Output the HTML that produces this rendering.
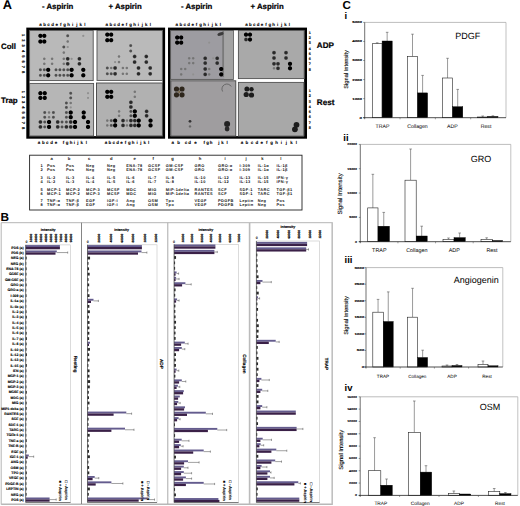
<!DOCTYPE html>
<html><head><meta charset="utf-8">
<style>
html,body{margin:0;padding:0;background:#fff;}
body{width:520px;height:506px;overflow:hidden;}
svg{display:block;font-family:"Liberation Sans", sans-serif;text-rendering:geometricPrecision;}
</style></head>
<body>
<svg width="520" height="506" viewBox="0 0 520 506">
<defs>
<filter id="blur" x="-5%" y="-5%" width="110%" height="110%"><feGaussianBlur stdDeviation="0.5"/></filter>
<radialGradient id="gB"><stop offset="0" stop-color="#000"/><stop offset="0.62" stop-color="#000"/><stop offset="1" stop-color="#000" stop-opacity="0"/></radialGradient>
<radialGradient id="gD"><stop offset="0" stop-color="#262626"/><stop offset="0.5" stop-color="#2c2c2c"/><stop offset="1" stop-color="#2c2c2c" stop-opacity="0"/></radialGradient>
<radialGradient id="gM"><stop offset="0" stop-color="#4a4a4a"/><stop offset="0.45" stop-color="#525252"/><stop offset="1" stop-color="#525252" stop-opacity="0"/></radialGradient>
<radialGradient id="gL"><stop offset="0" stop-color="#707070"/><stop offset="0.45" stop-color="#787878"/><stop offset="1" stop-color="#787878" stop-opacity="0"/></radialGradient>
<radialGradient id="gF"><stop offset="0" stop-color="#8e8e8e"/><stop offset="0.4" stop-color="#929292"/><stop offset="1" stop-color="#929292" stop-opacity="0"/></radialGradient>
</defs>
<rect x="0" y="0" width="520" height="506" fill="#fff"/>
<text x="2.7" y="8.7" font-size="12.8" font-weight="bold" text-anchor="start" fill="#000">A</text>
<text x="42" y="8.5" font-size="7.8" font-weight="bold" text-anchor="start" fill="#000" stroke="#000" stroke-width="0.22">- Aspirin</text>
<text x="108.5" y="8.5" font-size="7.8" font-weight="bold" text-anchor="start" fill="#000" stroke="#000" stroke-width="0.22">+ Aspirin</text>
<text x="181" y="8.5" font-size="7.8" font-weight="bold" text-anchor="start" fill="#000" stroke="#000" stroke-width="0.22">- Aspirin</text>
<text x="250.5" y="8.5" font-size="7.8" font-weight="bold" text-anchor="start" fill="#000" stroke="#000" stroke-width="0.22">+ Aspirin</text>
<rect x="26.30" y="27.60" width="138.80" height="111.10" fill="#000"/>
<rect x="168.00" y="27.60" width="139.00" height="111.10" fill="#000"/>
<rect x="29.50" y="30.30" width="133.00" height="105.80" fill="#fff"/>
<rect x="170.50" y="30.30" width="133.60" height="105.80" fill="#fff"/>
<g filter="url(#blur)">
<rect x="29.60" y="30.40" width="63.60" height="50.20" fill="#b9b9b9" stroke="#505050" stroke-width="0.9"/>
<circle cx="40.40" cy="35.80" r="2.6" fill="url(#gB)"/>
<circle cx="44.30" cy="35.80" r="2.6" fill="url(#gB)"/>
<circle cx="67.70" cy="35.80" r="2.0" fill="url(#gM)"/>
<circle cx="83.30" cy="35.80" r="1.6" fill="url(#gF)"/>
<circle cx="40.40" cy="41.50" r="2.6" fill="url(#gB)"/>
<circle cx="44.30" cy="41.50" r="2.6" fill="url(#gB)"/>
<circle cx="67.70" cy="41.50" r="1.8" fill="url(#gL)"/>
<circle cx="63.80" cy="47.00" r="2.0" fill="url(#gM)"/>
<circle cx="67.70" cy="47.00" r="1.6" fill="url(#gF)"/>
<circle cx="63.80" cy="52.60" r="1.8" fill="url(#gL)"/>
<circle cx="44.30" cy="58.80" r="1.8" fill="url(#gL)"/>
<circle cx="52.10" cy="58.80" r="1.8" fill="url(#gL)"/>
<circle cx="63.80" cy="58.80" r="1.8" fill="url(#gL)"/>
<circle cx="67.70" cy="58.80" r="2.4" fill="url(#gD)"/>
<circle cx="71.60" cy="58.80" r="1.6" fill="url(#gF)"/>
<circle cx="79.40" cy="58.80" r="2.4" fill="url(#gD)"/>
<circle cx="44.30" cy="63.80" r="1.8" fill="url(#gL)"/>
<circle cx="52.10" cy="63.80" r="1.8" fill="url(#gL)"/>
<circle cx="63.80" cy="63.80" r="1.8" fill="url(#gL)"/>
<circle cx="67.70" cy="63.80" r="2.4" fill="url(#gD)"/>
<circle cx="79.40" cy="63.80" r="2.4" fill="url(#gD)"/>
<circle cx="40.40" cy="69.80" r="2.0" fill="url(#gM)"/>
<circle cx="44.30" cy="69.80" r="2.0" fill="url(#gM)"/>
<circle cx="48.20" cy="69.80" r="2.6" fill="url(#gB)"/>
<circle cx="56.00" cy="69.80" r="2.0" fill="url(#gM)"/>
<circle cx="59.90" cy="69.80" r="2.0" fill="url(#gM)"/>
<circle cx="63.80" cy="69.80" r="2.0" fill="url(#gM)"/>
<circle cx="67.70" cy="69.80" r="2.0" fill="url(#gM)"/>
<circle cx="71.60" cy="69.80" r="2.6" fill="url(#gB)"/>
<circle cx="83.30" cy="69.80" r="2.6" fill="url(#gB)"/>
<circle cx="40.40" cy="75.30" r="2.0" fill="url(#gM)"/>
<circle cx="44.30" cy="75.30" r="2.0" fill="url(#gM)"/>
<circle cx="48.20" cy="75.30" r="2.6" fill="url(#gB)"/>
<circle cx="56.00" cy="75.30" r="2.0" fill="url(#gM)"/>
<circle cx="59.90" cy="75.30" r="2.0" fill="url(#gM)"/>
<circle cx="63.80" cy="75.30" r="2.0" fill="url(#gM)"/>
<circle cx="67.70" cy="75.30" r="2.0" fill="url(#gM)"/>
<circle cx="71.60" cy="75.30" r="2.6" fill="url(#gB)"/>
<circle cx="83.30" cy="75.30" r="2.6" fill="url(#gB)"/>
</g>
<g filter="url(#blur)">
<rect x="97.00" y="30.40" width="65.40" height="50.00" fill="#bababa" stroke="#505050" stroke-width="0.9"/>
<circle cx="107.30" cy="34.60" r="2.6" fill="url(#gB)"/>
<circle cx="111.20" cy="34.60" r="2.6" fill="url(#gB)"/>
<circle cx="107.30" cy="40.20" r="2.6" fill="url(#gB)"/>
<circle cx="111.20" cy="40.20" r="2.6" fill="url(#gB)"/>
<circle cx="130.70" cy="45.60" r="2.0" fill="url(#gM)"/>
<circle cx="130.70" cy="51.00" r="2.0" fill="url(#gM)"/>
<circle cx="119.00" cy="56.50" r="1.8" fill="url(#gL)"/>
<circle cx="134.60" cy="56.50" r="2.4" fill="url(#gD)"/>
<circle cx="146.30" cy="56.50" r="2.4" fill="url(#gD)"/>
<circle cx="115.10" cy="62.10" r="1.6" fill="url(#gF)"/>
<circle cx="119.00" cy="62.10" r="1.8" fill="url(#gL)"/>
<circle cx="134.60" cy="62.10" r="2.4" fill="url(#gD)"/>
<circle cx="146.30" cy="62.10" r="2.4" fill="url(#gD)"/>
<circle cx="107.30" cy="68.00" r="2.0" fill="url(#gM)"/>
<circle cx="111.20" cy="68.00" r="1.8" fill="url(#gL)"/>
<circle cx="115.10" cy="68.00" r="2.4" fill="url(#gD)"/>
<circle cx="122.90" cy="68.00" r="1.8" fill="url(#gL)"/>
<circle cx="126.80" cy="68.00" r="1.8" fill="url(#gL)"/>
<circle cx="138.50" cy="68.00" r="2.4" fill="url(#gD)"/>
<circle cx="150.20" cy="68.00" r="2.4" fill="url(#gD)"/>
<circle cx="107.30" cy="73.80" r="2.0" fill="url(#gM)"/>
<circle cx="111.20" cy="73.80" r="2.0" fill="url(#gM)"/>
<circle cx="115.10" cy="73.80" r="2.4" fill="url(#gD)"/>
<circle cx="122.90" cy="73.80" r="1.8" fill="url(#gL)"/>
<circle cx="126.80" cy="73.80" r="1.8" fill="url(#gL)"/>
<circle cx="138.50" cy="73.80" r="2.4" fill="url(#gD)"/>
<circle cx="150.20" cy="73.80" r="2.4" fill="url(#gD)"/>
</g>
<g filter="url(#blur)">
<rect x="29.60" y="83.40" width="64.00" height="52.60" fill="#b6b6b6" stroke="#505050" stroke-width="0.9"/>
<circle cx="40.40" cy="93.20" r="2.6" fill="url(#gB)"/>
<circle cx="44.73" cy="93.20" r="2.6" fill="url(#gB)"/>
<circle cx="70.71" cy="93.20" r="2.0" fill="url(#gM)"/>
<circle cx="88.03" cy="93.20" r="1.6" fill="url(#gF)"/>
<circle cx="40.40" cy="97.90" r="2.6" fill="url(#gB)"/>
<circle cx="44.73" cy="97.90" r="2.6" fill="url(#gB)"/>
<circle cx="70.71" cy="97.90" r="2.0" fill="url(#gM)"/>
<circle cx="88.03" cy="97.90" r="1.6" fill="url(#gF)"/>
<circle cx="66.38" cy="103.00" r="2.0" fill="url(#gM)"/>
<circle cx="70.71" cy="103.00" r="1.8" fill="url(#gL)"/>
<circle cx="66.38" cy="107.40" r="2.0" fill="url(#gM)"/>
<circle cx="70.71" cy="107.40" r="1.6" fill="url(#gF)"/>
<circle cx="44.73" cy="112.50" r="2.0" fill="url(#gM)"/>
<circle cx="49.06" cy="112.50" r="1.8" fill="url(#gL)"/>
<circle cx="53.39" cy="112.50" r="2.0" fill="url(#gM)"/>
<circle cx="66.38" cy="112.50" r="2.0" fill="url(#gM)"/>
<circle cx="70.71" cy="112.50" r="2.6" fill="url(#gB)"/>
<circle cx="83.70" cy="112.50" r="2.6" fill="url(#gB)"/>
<circle cx="44.73" cy="117.20" r="2.0" fill="url(#gM)"/>
<circle cx="49.06" cy="117.20" r="1.8" fill="url(#gL)"/>
<circle cx="53.39" cy="117.20" r="2.0" fill="url(#gM)"/>
<circle cx="66.38" cy="117.20" r="2.0" fill="url(#gM)"/>
<circle cx="70.71" cy="117.20" r="2.6" fill="url(#gB)"/>
<circle cx="83.70" cy="117.20" r="2.6" fill="url(#gB)"/>
<circle cx="40.40" cy="122.00" r="2.4" fill="url(#gD)"/>
<circle cx="44.73" cy="122.00" r="2.0" fill="url(#gM)"/>
<circle cx="49.06" cy="122.00" r="2.6" fill="url(#gB)"/>
<circle cx="57.72" cy="122.00" r="2.4" fill="url(#gD)"/>
<circle cx="62.05" cy="122.00" r="2.0" fill="url(#gM)"/>
<circle cx="66.38" cy="122.00" r="2.0" fill="url(#gM)"/>
<circle cx="70.71" cy="122.00" r="2.4" fill="url(#gD)"/>
<circle cx="75.04" cy="122.00" r="2.6" fill="url(#gB)"/>
<circle cx="88.03" cy="122.00" r="2.6" fill="url(#gB)"/>
<circle cx="40.40" cy="126.90" r="2.4" fill="url(#gD)"/>
<circle cx="44.73" cy="126.90" r="2.0" fill="url(#gM)"/>
<circle cx="49.06" cy="126.90" r="2.6" fill="url(#gB)"/>
<circle cx="57.72" cy="126.90" r="2.4" fill="url(#gD)"/>
<circle cx="62.05" cy="126.90" r="2.0" fill="url(#gM)"/>
<circle cx="66.38" cy="126.90" r="2.4" fill="url(#gD)"/>
<circle cx="70.71" cy="126.90" r="2.4" fill="url(#gD)"/>
<circle cx="75.04" cy="126.90" r="2.6" fill="url(#gB)"/>
<circle cx="88.03" cy="126.90" r="2.6" fill="url(#gB)"/>
</g>
<g filter="url(#blur)">
<rect x="96.50" y="83.00" width="65.90" height="53.00" fill="#b1b1b1" stroke="#444" stroke-width="0.9"/>
<circle cx="107.30" cy="91.80" r="2.6" fill="url(#gB)"/>
<circle cx="111.23" cy="91.80" r="2.6" fill="url(#gB)"/>
<circle cx="134.81" cy="91.80" r="1.8" fill="url(#gL)"/>
<circle cx="107.30" cy="96.80" r="2.6" fill="url(#gB)"/>
<circle cx="111.23" cy="96.80" r="2.6" fill="url(#gB)"/>
<circle cx="134.81" cy="96.80" r="1.8" fill="url(#gL)"/>
<circle cx="130.88" cy="102.30" r="2.4" fill="url(#gD)"/>
<circle cx="130.88" cy="107.00" r="2.4" fill="url(#gD)"/>
<circle cx="119.09" cy="111.40" r="1.8" fill="url(#gL)"/>
<circle cx="130.88" cy="111.40" r="2.0" fill="url(#gM)"/>
<circle cx="134.81" cy="111.40" r="2.6" fill="url(#gB)"/>
<circle cx="146.60" cy="111.40" r="2.4" fill="url(#gD)"/>
<circle cx="119.09" cy="115.80" r="1.8" fill="url(#gL)"/>
<circle cx="130.88" cy="115.80" r="2.0" fill="url(#gM)"/>
<circle cx="134.81" cy="115.80" r="2.6" fill="url(#gB)"/>
<circle cx="146.60" cy="115.80" r="2.4" fill="url(#gD)"/>
<circle cx="107.30" cy="120.60" r="1.8" fill="url(#gL)"/>
<circle cx="111.23" cy="120.60" r="2.0" fill="url(#gM)"/>
<circle cx="115.16" cy="120.60" r="2.6" fill="url(#gB)"/>
<circle cx="123.02" cy="120.60" r="2.4" fill="url(#gD)"/>
<circle cx="126.95" cy="120.60" r="1.8" fill="url(#gL)"/>
<circle cx="130.88" cy="120.60" r="2.4" fill="url(#gD)"/>
<circle cx="134.81" cy="120.60" r="2.4" fill="url(#gD)"/>
<circle cx="138.74" cy="120.60" r="2.6" fill="url(#gB)"/>
<circle cx="150.53" cy="120.60" r="2.6" fill="url(#gB)"/>
<circle cx="107.30" cy="125.40" r="1.8" fill="url(#gL)"/>
<circle cx="111.23" cy="125.40" r="2.0" fill="url(#gM)"/>
<circle cx="115.16" cy="125.40" r="2.6" fill="url(#gB)"/>
<circle cx="123.02" cy="125.40" r="2.4" fill="url(#gD)"/>
<circle cx="126.95" cy="125.40" r="1.8" fill="url(#gL)"/>
<circle cx="130.88" cy="125.40" r="2.4" fill="url(#gD)"/>
<circle cx="134.81" cy="125.40" r="2.4" fill="url(#gD)"/>
<circle cx="138.74" cy="125.40" r="2.6" fill="url(#gB)"/>
<circle cx="150.53" cy="125.40" r="2.6" fill="url(#gB)"/>
</g>
<g filter="url(#blur)">
<rect x="170.60" y="30.40" width="62.80" height="49.00" fill="#9d9ca1" stroke="#505050" stroke-width="0.9"/>
<rect x="222.2" y="31" width="1.8" height="46" fill="#7a7a7a"/>
<rect x="224.2" y="31" width="9" height="48" fill="#a4a4a4"/>
<ellipse cx="220.5" cy="34" rx="3.2" ry="1.6" fill="#3a3a3a" transform="rotate(-20 220.5 34)"/>
<circle cx="177.20" cy="37.50" r="2.6" fill="url(#gB)"/>
<circle cx="181.20" cy="37.50" r="2.6" fill="url(#gB)"/>
<circle cx="177.20" cy="42.60" r="2.6" fill="url(#gB)"/>
<circle cx="181.20" cy="42.60" r="2.6" fill="url(#gB)"/>
<circle cx="209.20" cy="42.60" r="1.6" fill="url(#gF)"/>
<circle cx="189.20" cy="58.30" r="1.8" fill="url(#gL)"/>
<circle cx="193.20" cy="58.30" r="1.8" fill="url(#gL)"/>
<circle cx="205.20" cy="58.30" r="2.4" fill="url(#gD)"/>
<circle cx="213.20" cy="58.30" r="1.6" fill="url(#gF)"/>
<circle cx="217.20" cy="58.30" r="2.4" fill="url(#gD)"/>
<circle cx="189.20" cy="63.10" r="1.8" fill="url(#gL)"/>
<circle cx="193.20" cy="63.10" r="1.8" fill="url(#gL)"/>
<circle cx="205.20" cy="63.10" r="2.4" fill="url(#gD)"/>
<circle cx="217.20" cy="63.10" r="2.4" fill="url(#gD)"/>
<circle cx="181.20" cy="69.00" r="1.8" fill="url(#gL)"/>
<circle cx="185.20" cy="69.00" r="1.8" fill="url(#gL)"/>
<circle cx="205.20" cy="69.00" r="2.4" fill="url(#gD)"/>
<circle cx="209.20" cy="69.00" r="1.8" fill="url(#gL)"/>
<circle cx="221.20" cy="69.00" r="2.6" fill="url(#gB)"/>
<circle cx="181.20" cy="74.40" r="1.8" fill="url(#gL)"/>
<circle cx="193.20" cy="74.40" r="1.6" fill="url(#gF)"/>
<circle cx="205.20" cy="74.40" r="2.4" fill="url(#gD)"/>
<circle cx="209.20" cy="74.40" r="1.8" fill="url(#gL)"/>
<circle cx="221.20" cy="74.40" r="2.6" fill="url(#gB)"/>
</g>
<g filter="url(#blur)">
<rect x="238.40" y="30.40" width="65.80" height="48.20" fill="#a9a9a9" stroke="#505050" stroke-width="0.9"/>
<circle cx="246.00" cy="34.60" r="2.6" fill="url(#gB)"/>
<circle cx="250.00" cy="34.60" r="2.6" fill="url(#gB)"/>
<circle cx="246.00" cy="39.50" r="2.4" fill="url(#gD)"/>
<circle cx="250.00" cy="39.50" r="2.6" fill="url(#gB)"/>
<circle cx="274.00" cy="52.70" r="2.4" fill="url(#gD)"/>
<circle cx="286.00" cy="52.70" r="2.4" fill="url(#gD)"/>
<circle cx="274.00" cy="58.00" r="2.4" fill="url(#gD)"/>
<circle cx="286.00" cy="58.00" r="2.4" fill="url(#gD)"/>
<circle cx="274.00" cy="63.80" r="2.4" fill="url(#gD)"/>
<circle cx="278.00" cy="63.80" r="2.4" fill="url(#gD)"/>
<circle cx="290.00" cy="63.80" r="2.6" fill="url(#gB)"/>
<circle cx="274.00" cy="68.30" r="1.8" fill="url(#gL)"/>
<circle cx="278.00" cy="68.30" r="2.4" fill="url(#gD)"/>
<circle cx="290.00" cy="68.30" r="2.6" fill="url(#gB)"/>
</g>
<g filter="url(#blur)">
<rect x="170.80" y="80.80" width="65.00" height="55.30" fill="#9f9d9f" stroke="#444" stroke-width="0.9"/>
<circle cx="176.5" cy="89" r="2.6" fill="#2e271c"/>
<circle cx="182" cy="89" r="2.6" fill="#2e271c"/>
<circle cx="176.5" cy="94.8" r="2.6" fill="#2e271c"/>
<circle cx="182" cy="94.8" r="2.6" fill="#2e271c"/>
<circle cx="179.2" cy="91.9" r="1.2" fill="#7a6a50"/>
<circle cx="190" cy="121.3" r="1.4" fill="#333"/>
<circle cx="190" cy="126.4" r="1.2" fill="#666"/>
<circle cx="227.1" cy="124" r="3" fill="#222"/>
<circle cx="227.1" cy="129" r="2.4" fill="#2a2a2a"/>
<path d="M 222.6 91.5 A 4.6 4.6 0 0 1 231.2 86.5" fill="none" stroke="#5a5a5a" stroke-width="0.8"/>
</g>
<g filter="url(#blur)">
<rect x="238.40" y="82.40" width="65.40" height="53.70" fill="#a8a8a8" stroke="#505050" stroke-width="0.9"/>
<circle cx="246.9" cy="89.0" r="2.5" fill="#1e1e1e"/>
<circle cx="251.5" cy="89.2" r="2.2" fill="#1e1e1e"/>
<circle cx="246.2" cy="94.5" r="2.6" fill="#1e1e1e"/>
<circle cx="251.5" cy="95.0" r="2.6" fill="#1e1e1e"/>
<circle cx="296.5" cy="124.8" r="2.9" fill="#1e1e1e"/>
<circle cx="294.9" cy="129.3" r="2.9" fill="#1e1e1e"/>
</g>
<text x="40.50" y="26.3" font-size="4.4" font-weight="bold" text-anchor="middle" fill="#000" stroke="#000" stroke-width="0.1">a</text>
<text x="44.53" y="26.3" font-size="4.4" font-weight="bold" text-anchor="middle" fill="#000" stroke="#000" stroke-width="0.1">b</text>
<text x="48.55" y="26.3" font-size="4.4" font-weight="bold" text-anchor="middle" fill="#000" stroke="#000" stroke-width="0.1">c</text>
<text x="52.58" y="26.3" font-size="4.4" font-weight="bold" text-anchor="middle" fill="#000" stroke="#000" stroke-width="0.1">d</text>
<text x="56.61" y="26.3" font-size="4.4" font-weight="bold" text-anchor="middle" fill="#000" stroke="#000" stroke-width="0.1">e</text>
<text x="60.64" y="26.3" font-size="4.4" font-weight="bold" text-anchor="middle" fill="#000" stroke="#000" stroke-width="0.1">f</text>
<text x="64.66" y="26.3" font-size="4.4" font-weight="bold" text-anchor="middle" fill="#000" stroke="#000" stroke-width="0.1">g</text>
<text x="68.69" y="26.3" font-size="4.4" font-weight="bold" text-anchor="middle" fill="#000" stroke="#000" stroke-width="0.1">h</text>
<text x="72.72" y="26.3" font-size="4.4" font-weight="bold" text-anchor="middle" fill="#000" stroke="#000" stroke-width="0.1">i</text>
<text x="76.75" y="26.3" font-size="4.4" font-weight="bold" text-anchor="middle" fill="#000" stroke="#000" stroke-width="0.1">j</text>
<text x="80.77" y="26.3" font-size="4.4" font-weight="bold" text-anchor="middle" fill="#000" stroke="#000" stroke-width="0.1">k</text>
<text x="84.80" y="26.3" font-size="4.4" font-weight="bold" text-anchor="middle" fill="#000" stroke="#000" stroke-width="0.1">l</text>
<text x="106.80" y="26.3" font-size="4.4" font-weight="bold" text-anchor="middle" fill="#000" stroke="#000" stroke-width="0.1">a</text>
<text x="110.75" y="26.3" font-size="4.4" font-weight="bold" text-anchor="middle" fill="#000" stroke="#000" stroke-width="0.1">b</text>
<text x="114.71" y="26.3" font-size="4.4" font-weight="bold" text-anchor="middle" fill="#000" stroke="#000" stroke-width="0.1">c</text>
<text x="118.66" y="26.3" font-size="4.4" font-weight="bold" text-anchor="middle" fill="#000" stroke="#000" stroke-width="0.1">d</text>
<text x="122.62" y="26.3" font-size="4.4" font-weight="bold" text-anchor="middle" fill="#000" stroke="#000" stroke-width="0.1">e</text>
<text x="126.57" y="26.3" font-size="4.4" font-weight="bold" text-anchor="middle" fill="#000" stroke="#000" stroke-width="0.1">f</text>
<text x="130.53" y="26.3" font-size="4.4" font-weight="bold" text-anchor="middle" fill="#000" stroke="#000" stroke-width="0.1">g</text>
<text x="134.48" y="26.3" font-size="4.4" font-weight="bold" text-anchor="middle" fill="#000" stroke="#000" stroke-width="0.1">h</text>
<text x="138.44" y="26.3" font-size="4.4" font-weight="bold" text-anchor="middle" fill="#000" stroke="#000" stroke-width="0.1">i</text>
<text x="142.39" y="26.3" font-size="4.4" font-weight="bold" text-anchor="middle" fill="#000" stroke="#000" stroke-width="0.1">j</text>
<text x="146.35" y="26.3" font-size="4.4" font-weight="bold" text-anchor="middle" fill="#000" stroke="#000" stroke-width="0.1">k</text>
<text x="150.30" y="26.3" font-size="4.4" font-weight="bold" text-anchor="middle" fill="#000" stroke="#000" stroke-width="0.1">l</text>
<text x="176.80" y="26.3" font-size="4.4" font-weight="bold" text-anchor="middle" fill="#000" stroke="#000" stroke-width="0.1">a</text>
<text x="180.75" y="26.3" font-size="4.4" font-weight="bold" text-anchor="middle" fill="#000" stroke="#000" stroke-width="0.1">b</text>
<text x="184.71" y="26.3" font-size="4.4" font-weight="bold" text-anchor="middle" fill="#000" stroke="#000" stroke-width="0.1">c</text>
<text x="188.66" y="26.3" font-size="4.4" font-weight="bold" text-anchor="middle" fill="#000" stroke="#000" stroke-width="0.1">d</text>
<text x="192.62" y="26.3" font-size="4.4" font-weight="bold" text-anchor="middle" fill="#000" stroke="#000" stroke-width="0.1">e</text>
<text x="196.57" y="26.3" font-size="4.4" font-weight="bold" text-anchor="middle" fill="#000" stroke="#000" stroke-width="0.1">f</text>
<text x="200.53" y="26.3" font-size="4.4" font-weight="bold" text-anchor="middle" fill="#000" stroke="#000" stroke-width="0.1">g</text>
<text x="204.48" y="26.3" font-size="4.4" font-weight="bold" text-anchor="middle" fill="#000" stroke="#000" stroke-width="0.1">h</text>
<text x="208.44" y="26.3" font-size="4.4" font-weight="bold" text-anchor="middle" fill="#000" stroke="#000" stroke-width="0.1">i</text>
<text x="212.39" y="26.3" font-size="4.4" font-weight="bold" text-anchor="middle" fill="#000" stroke="#000" stroke-width="0.1">j</text>
<text x="216.35" y="26.3" font-size="4.4" font-weight="bold" text-anchor="middle" fill="#000" stroke="#000" stroke-width="0.1">k</text>
<text x="220.30" y="26.3" font-size="4.4" font-weight="bold" text-anchor="middle" fill="#000" stroke="#000" stroke-width="0.1">l</text>
<text x="246.40" y="26.3" font-size="4.4" font-weight="bold" text-anchor="middle" fill="#000" stroke="#000" stroke-width="0.1">a</text>
<text x="250.30" y="26.3" font-size="4.4" font-weight="bold" text-anchor="middle" fill="#000" stroke="#000" stroke-width="0.1">b</text>
<text x="254.20" y="26.3" font-size="4.4" font-weight="bold" text-anchor="middle" fill="#000" stroke="#000" stroke-width="0.1">c</text>
<text x="258.10" y="26.3" font-size="4.4" font-weight="bold" text-anchor="middle" fill="#000" stroke="#000" stroke-width="0.1">d</text>
<text x="262.00" y="26.3" font-size="4.4" font-weight="bold" text-anchor="middle" fill="#000" stroke="#000" stroke-width="0.1">e</text>
<text x="265.90" y="26.3" font-size="4.4" font-weight="bold" text-anchor="middle" fill="#000" stroke="#000" stroke-width="0.1">f</text>
<text x="269.80" y="26.3" font-size="4.4" font-weight="bold" text-anchor="middle" fill="#000" stroke="#000" stroke-width="0.1">g</text>
<text x="273.70" y="26.3" font-size="4.4" font-weight="bold" text-anchor="middle" fill="#000" stroke="#000" stroke-width="0.1">h</text>
<text x="277.60" y="26.3" font-size="4.4" font-weight="bold" text-anchor="middle" fill="#000" stroke="#000" stroke-width="0.1">i</text>
<text x="281.50" y="26.3" font-size="4.4" font-weight="bold" text-anchor="middle" fill="#000" stroke="#000" stroke-width="0.1">j</text>
<text x="285.40" y="26.3" font-size="4.4" font-weight="bold" text-anchor="middle" fill="#000" stroke="#000" stroke-width="0.1">k</text>
<text x="289.30" y="26.3" font-size="4.4" font-weight="bold" text-anchor="middle" fill="#000" stroke="#000" stroke-width="0.1">l</text>
<text x="39.0" y="144.2" font-size="4.4" font-weight="bold" text-anchor="middle" fill="#000" stroke="#000" stroke-width="0.1">a</text>
<text x="43.3" y="144.2" font-size="4.4" font-weight="bold" text-anchor="middle" fill="#000" stroke="#000" stroke-width="0.1">b</text>
<text x="47.3" y="144.2" font-size="4.4" font-weight="bold" text-anchor="middle" fill="#000" stroke="#000" stroke-width="0.1">c</text>
<text x="51.6" y="144.2" font-size="4.4" font-weight="bold" text-anchor="middle" fill="#000" stroke="#000" stroke-width="0.1">d</text>
<text x="55.9" y="144.2" font-size="4.4" font-weight="bold" text-anchor="middle" fill="#000" stroke="#000" stroke-width="0.1">e</text>
<text x="63.4" y="144.2" font-size="4.4" font-weight="bold" text-anchor="middle" fill="#000" stroke="#000" stroke-width="0.1">f</text>
<text x="67.0" y="144.2" font-size="4.4" font-weight="bold" text-anchor="middle" fill="#000" stroke="#000" stroke-width="0.1">g</text>
<text x="71.0" y="144.2" font-size="4.4" font-weight="bold" text-anchor="middle" fill="#000" stroke="#000" stroke-width="0.1">h</text>
<text x="74.4" y="144.2" font-size="4.4" font-weight="bold" text-anchor="middle" fill="#000" stroke="#000" stroke-width="0.1">i</text>
<text x="77.8" y="144.2" font-size="4.4" font-weight="bold" text-anchor="middle" fill="#000" stroke="#000" stroke-width="0.1">j</text>
<text x="81.8" y="144.2" font-size="4.4" font-weight="bold" text-anchor="middle" fill="#000" stroke="#000" stroke-width="0.1">k</text>
<text x="86.3" y="144.2" font-size="4.4" font-weight="bold" text-anchor="middle" fill="#000" stroke="#000" stroke-width="0.1">l</text>
<text x="106.00" y="144.2" font-size="4.4" font-weight="bold" text-anchor="middle" fill="#000" stroke="#000" stroke-width="0.1">a</text>
<text x="109.88" y="144.2" font-size="4.4" font-weight="bold" text-anchor="middle" fill="#000" stroke="#000" stroke-width="0.1">b</text>
<text x="113.76" y="144.2" font-size="4.4" font-weight="bold" text-anchor="middle" fill="#000" stroke="#000" stroke-width="0.1">c</text>
<text x="117.65" y="144.2" font-size="4.4" font-weight="bold" text-anchor="middle" fill="#000" stroke="#000" stroke-width="0.1">d</text>
<text x="121.53" y="144.2" font-size="4.4" font-weight="bold" text-anchor="middle" fill="#000" stroke="#000" stroke-width="0.1">e</text>
<text x="125.41" y="144.2" font-size="4.4" font-weight="bold" text-anchor="middle" fill="#000" stroke="#000" stroke-width="0.1">f</text>
<text x="129.29" y="144.2" font-size="4.4" font-weight="bold" text-anchor="middle" fill="#000" stroke="#000" stroke-width="0.1">g</text>
<text x="133.17" y="144.2" font-size="4.4" font-weight="bold" text-anchor="middle" fill="#000" stroke="#000" stroke-width="0.1">h</text>
<text x="137.05" y="144.2" font-size="4.4" font-weight="bold" text-anchor="middle" fill="#000" stroke="#000" stroke-width="0.1">i</text>
<text x="140.94" y="144.2" font-size="4.4" font-weight="bold" text-anchor="middle" fill="#000" stroke="#000" stroke-width="0.1">j</text>
<text x="144.82" y="144.2" font-size="4.4" font-weight="bold" text-anchor="middle" fill="#000" stroke="#000" stroke-width="0.1">k</text>
<text x="148.70" y="144.2" font-size="4.4" font-weight="bold" text-anchor="middle" fill="#000" stroke="#000" stroke-width="0.1">l</text>
<text x="172.8" y="144.2" font-size="4.4" font-weight="bold" text-anchor="middle" fill="#000" stroke="#000" stroke-width="0.1">a</text>
<text x="178.6" y="144.2" font-size="4.4" font-weight="bold" text-anchor="middle" fill="#000" stroke="#000" stroke-width="0.1">b</text>
<text x="185.9" y="144.2" font-size="4.4" font-weight="bold" text-anchor="middle" fill="#000" stroke="#000" stroke-width="0.1">c</text>
<text x="189.6" y="144.2" font-size="4.4" font-weight="bold" text-anchor="middle" fill="#000" stroke="#000" stroke-width="0.1">d</text>
<text x="195.4" y="144.2" font-size="4.4" font-weight="bold" text-anchor="middle" fill="#000" stroke="#000" stroke-width="0.1">e</text>
<text x="204.2" y="144.2" font-size="4.4" font-weight="bold" text-anchor="middle" fill="#000" stroke="#000" stroke-width="0.1">f</text>
<text x="207.6" y="144.2" font-size="4.4" font-weight="bold" text-anchor="middle" fill="#000" stroke="#000" stroke-width="0.1">g</text>
<text x="211.0" y="144.2" font-size="4.4" font-weight="bold" text-anchor="middle" fill="#000" stroke="#000" stroke-width="0.1">h</text>
<text x="218.8" y="144.2" font-size="4.4" font-weight="bold" text-anchor="middle" fill="#000" stroke="#000" stroke-width="0.1">j</text>
<text x="222.5" y="144.2" font-size="4.4" font-weight="bold" text-anchor="middle" fill="#000" stroke="#000" stroke-width="0.1">k</text>
<text x="227.1" y="144.2" font-size="4.4" font-weight="bold" text-anchor="middle" fill="#000" stroke="#000" stroke-width="0.1">l</text>
<text x="242.00" y="144.2" font-size="4.4" font-weight="bold" text-anchor="middle" fill="#000" stroke="#000" stroke-width="0.1">a</text>
<text x="246.94" y="144.2" font-size="4.4" font-weight="bold" text-anchor="middle" fill="#000" stroke="#000" stroke-width="0.1">b</text>
<text x="251.87" y="144.2" font-size="4.4" font-weight="bold" text-anchor="middle" fill="#000" stroke="#000" stroke-width="0.1">c</text>
<text x="256.81" y="144.2" font-size="4.4" font-weight="bold" text-anchor="middle" fill="#000" stroke="#000" stroke-width="0.1">d</text>
<text x="261.75" y="144.2" font-size="4.4" font-weight="bold" text-anchor="middle" fill="#000" stroke="#000" stroke-width="0.1">e</text>
<text x="266.68" y="144.2" font-size="4.4" font-weight="bold" text-anchor="middle" fill="#000" stroke="#000" stroke-width="0.1">f</text>
<text x="271.62" y="144.2" font-size="4.4" font-weight="bold" text-anchor="middle" fill="#000" stroke="#000" stroke-width="0.1">g</text>
<text x="276.55" y="144.2" font-size="4.4" font-weight="bold" text-anchor="middle" fill="#000" stroke="#000" stroke-width="0.1">h</text>
<text x="281.49" y="144.2" font-size="4.4" font-weight="bold" text-anchor="middle" fill="#000" stroke="#000" stroke-width="0.1">i</text>
<text x="286.43" y="144.2" font-size="4.4" font-weight="bold" text-anchor="middle" fill="#000" stroke="#000" stroke-width="0.1">j</text>
<text x="291.36" y="144.2" font-size="4.4" font-weight="bold" text-anchor="middle" fill="#000" stroke="#000" stroke-width="0.1">k</text>
<text x="296.30" y="144.2" font-size="4.4" font-weight="bold" text-anchor="middle" fill="#000" stroke="#000" stroke-width="0.1">l</text>
<text x="22.3" y="35.20" font-size="4.0" font-weight="bold" text-anchor="middle" fill="#000" transform="rotate(90 22.3 35.20)" stroke="#000" stroke-width="0.15">1</text>
<text x="22.3" y="40.47" font-size="4.0" font-weight="bold" text-anchor="middle" fill="#000" transform="rotate(90 22.3 40.47)" stroke="#000" stroke-width="0.15">2</text>
<text x="22.3" y="45.74" font-size="4.0" font-weight="bold" text-anchor="middle" fill="#000" transform="rotate(90 22.3 45.74)" stroke="#000" stroke-width="0.15">3</text>
<text x="22.3" y="51.01" font-size="4.0" font-weight="bold" text-anchor="middle" fill="#000" transform="rotate(90 22.3 51.01)" stroke="#000" stroke-width="0.15">4</text>
<text x="22.3" y="56.28" font-size="4.0" font-weight="bold" text-anchor="middle" fill="#000" transform="rotate(90 22.3 56.28)" stroke="#000" stroke-width="0.15">5</text>
<text x="22.3" y="61.55" font-size="4.0" font-weight="bold" text-anchor="middle" fill="#000" transform="rotate(90 22.3 61.55)" stroke="#000" stroke-width="0.15">6</text>
<text x="22.3" y="66.82" font-size="4.0" font-weight="bold" text-anchor="middle" fill="#000" transform="rotate(90 22.3 66.82)" stroke="#000" stroke-width="0.15">7</text>
<text x="22.3" y="72.09" font-size="4.0" font-weight="bold" text-anchor="middle" fill="#000" transform="rotate(90 22.3 72.09)" stroke="#000" stroke-width="0.15">8</text>
<text x="22.3" y="91.90" font-size="4.0" font-weight="bold" text-anchor="middle" fill="#000" transform="rotate(90 22.3 91.90)" stroke="#000" stroke-width="0.15">1</text>
<text x="22.3" y="97.06" font-size="4.0" font-weight="bold" text-anchor="middle" fill="#000" transform="rotate(90 22.3 97.06)" stroke="#000" stroke-width="0.15">2</text>
<text x="22.3" y="102.22" font-size="4.0" font-weight="bold" text-anchor="middle" fill="#000" transform="rotate(90 22.3 102.22)" stroke="#000" stroke-width="0.15">3</text>
<text x="22.3" y="107.38" font-size="4.0" font-weight="bold" text-anchor="middle" fill="#000" transform="rotate(90 22.3 107.38)" stroke="#000" stroke-width="0.15">4</text>
<text x="22.3" y="112.54" font-size="4.0" font-weight="bold" text-anchor="middle" fill="#000" transform="rotate(90 22.3 112.54)" stroke="#000" stroke-width="0.15">5</text>
<text x="22.3" y="117.70" font-size="4.0" font-weight="bold" text-anchor="middle" fill="#000" transform="rotate(90 22.3 117.70)" stroke="#000" stroke-width="0.15">6</text>
<text x="22.3" y="122.86" font-size="4.0" font-weight="bold" text-anchor="middle" fill="#000" transform="rotate(90 22.3 122.86)" stroke="#000" stroke-width="0.15">7</text>
<text x="22.3" y="128.02" font-size="4.0" font-weight="bold" text-anchor="middle" fill="#000" transform="rotate(90 22.3 128.02)" stroke="#000" stroke-width="0.15">8</text>
<text x="309.9" y="33.70" font-size="3.7" font-weight="bold" text-anchor="middle" fill="#000" stroke="#000" stroke-width="0.1">1</text>
<text x="309.9" y="38.99" font-size="3.7" font-weight="bold" text-anchor="middle" fill="#000" stroke="#000" stroke-width="0.1">2</text>
<text x="309.9" y="44.28" font-size="3.7" font-weight="bold" text-anchor="middle" fill="#000" stroke="#000" stroke-width="0.1">3</text>
<text x="309.9" y="49.57" font-size="3.7" font-weight="bold" text-anchor="middle" fill="#000" stroke="#000" stroke-width="0.1">4</text>
<text x="309.9" y="54.86" font-size="3.7" font-weight="bold" text-anchor="middle" fill="#000" stroke="#000" stroke-width="0.1">5</text>
<text x="309.9" y="60.15" font-size="3.7" font-weight="bold" text-anchor="middle" fill="#000" stroke="#000" stroke-width="0.1">6</text>
<text x="309.9" y="65.44" font-size="3.7" font-weight="bold" text-anchor="middle" fill="#000" stroke="#000" stroke-width="0.1">7</text>
<text x="309.9" y="70.73" font-size="3.7" font-weight="bold" text-anchor="middle" fill="#000" stroke="#000" stroke-width="0.1">8</text>
<text x="309.9" y="91.90" font-size="3.7" font-weight="bold" text-anchor="middle" fill="#000" stroke="#000" stroke-width="0.1">1</text>
<text x="309.9" y="97.21" font-size="3.7" font-weight="bold" text-anchor="middle" fill="#000" stroke="#000" stroke-width="0.1">2</text>
<text x="309.9" y="102.52" font-size="3.7" font-weight="bold" text-anchor="middle" fill="#000" stroke="#000" stroke-width="0.1">3</text>
<text x="309.9" y="107.83" font-size="3.7" font-weight="bold" text-anchor="middle" fill="#000" stroke="#000" stroke-width="0.1">4</text>
<text x="309.9" y="113.14" font-size="3.7" font-weight="bold" text-anchor="middle" fill="#000" stroke="#000" stroke-width="0.1">5</text>
<text x="309.9" y="118.45" font-size="3.7" font-weight="bold" text-anchor="middle" fill="#000" stroke="#000" stroke-width="0.1">6</text>
<text x="309.9" y="123.76" font-size="3.7" font-weight="bold" text-anchor="middle" fill="#000" stroke="#000" stroke-width="0.1">7</text>
<text x="309.9" y="129.07" font-size="3.7" font-weight="bold" text-anchor="middle" fill="#000" stroke="#000" stroke-width="0.1">8</text>
<text x="1" y="48.8" font-size="7.9" font-weight="bold" text-anchor="start" fill="#000" stroke="#000" stroke-width="0.22">Coll</text>
<text x="1" y="102.9" font-size="7.9" font-weight="bold" text-anchor="start" fill="#000" stroke="#000" stroke-width="0.22">Trap</text>
<text x="316.8" y="48.0" font-size="8.1" font-weight="bold" text-anchor="start" fill="#000" stroke="#000" stroke-width="0.22">ADP</text>
<text x="316.8" y="104.6" font-size="8.1" font-weight="bold" text-anchor="start" fill="#000" stroke="#000" stroke-width="0.22">Rest</text>
<rect x="29.60" y="155.20" width="272.40" height="54.80" fill="#fff" stroke="#222" stroke-width="0.9"/>
<text x="51.7" y="159.6" font-size="4.2" font-weight="bold" text-anchor="middle" fill="#111">a</text>
<text x="69" y="159.6" font-size="4.2" font-weight="bold" text-anchor="middle" fill="#111">b</text>
<text x="89.2" y="159.6" font-size="4.2" font-weight="bold" text-anchor="middle" fill="#111">c</text>
<text x="111.3" y="159.6" font-size="4.2" font-weight="bold" text-anchor="middle" fill="#111">d</text>
<text x="134.6" y="159.6" font-size="4.2" font-weight="bold" text-anchor="middle" fill="#111">e</text>
<text x="153.3" y="159.6" font-size="4.2" font-weight="bold" text-anchor="middle" fill="#111">f</text>
<text x="172.5" y="159.6" font-size="4.2" font-weight="bold" text-anchor="middle" fill="#111">g</text>
<text x="200" y="159.6" font-size="4.2" font-weight="bold" text-anchor="middle" fill="#111">h</text>
<text x="225" y="159.6" font-size="4.2" font-weight="bold" text-anchor="middle" fill="#111">i</text>
<text x="246.2" y="159.6" font-size="4.2" font-weight="bold" text-anchor="middle" fill="#111">j</text>
<text x="262.5" y="159.6" font-size="4.2" font-weight="bold" text-anchor="middle" fill="#111">k</text>
<text x="280.8" y="159.6" font-size="4.2" font-weight="bold" text-anchor="middle" fill="#111">l</text>
<text x="41.6" y="166.95" font-size="3.9" font-weight="bold" text-anchor="middle" fill="#111">1</text>
<text x="47" y="166.95" font-size="3.9" font-weight="bold" text-anchor="start" fill="#111" letter-spacing="0.42">Pos</text>
<text x="66" y="166.95" font-size="3.9" font-weight="bold" text-anchor="start" fill="#111" letter-spacing="0.42">Pos</text>
<text x="86" y="166.95" font-size="3.9" font-weight="bold" text-anchor="start" fill="#111" letter-spacing="0.42">Neg</text>
<text x="107" y="166.95" font-size="3.9" font-weight="bold" text-anchor="start" fill="#111" letter-spacing="0.42">Neg</text>
<text x="126.3" y="166.95" font-size="3.9" font-weight="bold" text-anchor="start" fill="#111" letter-spacing="0.42">ENA-78</text>
<text x="148" y="166.95" font-size="3.9" font-weight="bold" text-anchor="start" fill="#111" letter-spacing="0.42">GCSF</text>
<text x="165.8" y="166.95" font-size="3.9" font-weight="bold" text-anchor="start" fill="#111" letter-spacing="0.42">GM-CSF</text>
<text x="194.6" y="166.95" font-size="3.9" font-weight="bold" text-anchor="start" fill="#111" letter-spacing="0.42">GRO</text>
<text x="218" y="166.95" font-size="3.9" font-weight="bold" text-anchor="start" fill="#111" letter-spacing="0.42">GRO-&#945;</text>
<text x="239.4" y="166.95" font-size="3.9" font-weight="bold" text-anchor="start" fill="#111" letter-spacing="0.42">I-309</text>
<text x="257.7" y="166.95" font-size="3.9" font-weight="bold" text-anchor="start" fill="#111" letter-spacing="0.42">IL-1&#945;</text>
<text x="276.5" y="166.95" font-size="3.9" font-weight="bold" text-anchor="start" fill="#111" letter-spacing="0.42">IL-1&#946;</text>
<text x="41.6" y="170.95" font-size="3.9" font-weight="bold" text-anchor="middle" fill="#111">2</text>
<text x="47" y="170.95" font-size="3.9" font-weight="bold" text-anchor="start" fill="#111" letter-spacing="0.42">Pos</text>
<text x="66" y="170.95" font-size="3.9" font-weight="bold" text-anchor="start" fill="#111" letter-spacing="0.42">Pos</text>
<text x="86" y="170.95" font-size="3.9" font-weight="bold" text-anchor="start" fill="#111" letter-spacing="0.42">Neg</text>
<text x="107" y="170.95" font-size="3.9" font-weight="bold" text-anchor="start" fill="#111" letter-spacing="0.42">Neg</text>
<text x="126.3" y="170.95" font-size="3.9" font-weight="bold" text-anchor="start" fill="#111" letter-spacing="0.42">ENA-78</text>
<text x="148" y="170.95" font-size="3.9" font-weight="bold" text-anchor="start" fill="#111" letter-spacing="0.42">GCSF</text>
<text x="165.8" y="170.95" font-size="3.9" font-weight="bold" text-anchor="start" fill="#111" letter-spacing="0.42">GM-CSF</text>
<text x="194.6" y="170.95" font-size="3.9" font-weight="bold" text-anchor="start" fill="#111" letter-spacing="0.42">GRO</text>
<text x="218" y="170.95" font-size="3.9" font-weight="bold" text-anchor="start" fill="#111" letter-spacing="0.42">GRO-&#945;</text>
<text x="239.4" y="170.95" font-size="3.9" font-weight="bold" text-anchor="start" fill="#111" letter-spacing="0.42">I-309</text>
<text x="257.7" y="170.95" font-size="3.9" font-weight="bold" text-anchor="start" fill="#111" letter-spacing="0.42">IL-1&#945;</text>
<text x="276.5" y="170.95" font-size="3.9" font-weight="bold" text-anchor="start" fill="#111" letter-spacing="0.42">IL-1&#946;</text>
<text x="41.6" y="179.05" font-size="3.9" font-weight="bold" text-anchor="middle" fill="#111">3</text>
<text x="47" y="179.05" font-size="3.9" font-weight="bold" text-anchor="start" fill="#111" letter-spacing="0.42">IL-2</text>
<text x="66" y="179.05" font-size="3.9" font-weight="bold" text-anchor="start" fill="#111" letter-spacing="0.42">IL-3</text>
<text x="86" y="179.05" font-size="3.9" font-weight="bold" text-anchor="start" fill="#111" letter-spacing="0.42">IL-4</text>
<text x="107" y="179.05" font-size="3.9" font-weight="bold" text-anchor="start" fill="#111" letter-spacing="0.42">IL-5</text>
<text x="126.3" y="179.05" font-size="3.9" font-weight="bold" text-anchor="start" fill="#111" letter-spacing="0.42">IL-6</text>
<text x="148" y="179.05" font-size="3.9" font-weight="bold" text-anchor="start" fill="#111" letter-spacing="0.42">IL-7</text>
<text x="165.8" y="179.05" font-size="3.9" font-weight="bold" text-anchor="start" fill="#111" letter-spacing="0.42">IL-8</text>
<text x="194.6" y="179.05" font-size="3.9" font-weight="bold" text-anchor="start" fill="#111" letter-spacing="0.42">IL-10</text>
<text x="218" y="179.05" font-size="3.9" font-weight="bold" text-anchor="start" fill="#111" letter-spacing="0.42">IL-12</text>
<text x="239.4" y="179.05" font-size="3.9" font-weight="bold" text-anchor="start" fill="#111" letter-spacing="0.42">IL-13</text>
<text x="257.7" y="179.05" font-size="3.9" font-weight="bold" text-anchor="start" fill="#111" letter-spacing="0.42">IL-15</text>
<text x="276.5" y="179.05" font-size="3.9" font-weight="bold" text-anchor="start" fill="#111" letter-spacing="0.42">IFN-&#947;</text>
<text x="41.6" y="182.75" font-size="3.9" font-weight="bold" text-anchor="middle" fill="#111">4</text>
<text x="47" y="182.75" font-size="3.9" font-weight="bold" text-anchor="start" fill="#111" letter-spacing="0.42">IL-2</text>
<text x="66" y="182.75" font-size="3.9" font-weight="bold" text-anchor="start" fill="#111" letter-spacing="0.42">IL-3</text>
<text x="86" y="182.75" font-size="3.9" font-weight="bold" text-anchor="start" fill="#111" letter-spacing="0.42">IL-4</text>
<text x="107" y="182.75" font-size="3.9" font-weight="bold" text-anchor="start" fill="#111" letter-spacing="0.42">IL-5</text>
<text x="126.3" y="182.75" font-size="3.9" font-weight="bold" text-anchor="start" fill="#111" letter-spacing="0.42">IL-6</text>
<text x="148" y="182.75" font-size="3.9" font-weight="bold" text-anchor="start" fill="#111" letter-spacing="0.42">IL-7</text>
<text x="165.8" y="182.75" font-size="3.9" font-weight="bold" text-anchor="start" fill="#111" letter-spacing="0.42">IL-8</text>
<text x="194.6" y="182.75" font-size="3.9" font-weight="bold" text-anchor="start" fill="#111" letter-spacing="0.42">IL-10</text>
<text x="218" y="182.75" font-size="3.9" font-weight="bold" text-anchor="start" fill="#111" letter-spacing="0.42">IL-12</text>
<text x="239.4" y="182.75" font-size="3.9" font-weight="bold" text-anchor="start" fill="#111" letter-spacing="0.42">IL-13</text>
<text x="257.7" y="182.75" font-size="3.9" font-weight="bold" text-anchor="start" fill="#111" letter-spacing="0.42">IL-15</text>
<text x="276.5" y="182.75" font-size="3.9" font-weight="bold" text-anchor="start" fill="#111" letter-spacing="0.42">IFN-&#947;</text>
<text x="41.6" y="190.95" font-size="3.9" font-weight="bold" text-anchor="middle" fill="#111">5</text>
<text x="47" y="190.95" font-size="3.9" font-weight="bold" text-anchor="start" fill="#111" letter-spacing="0.42">MCP-1</text>
<text x="66" y="190.95" font-size="3.9" font-weight="bold" text-anchor="start" fill="#111" letter-spacing="0.42">MCP-2</text>
<text x="86" y="190.95" font-size="3.9" font-weight="bold" text-anchor="start" fill="#111" letter-spacing="0.42">MCP-3</text>
<text x="107" y="190.95" font-size="3.9" font-weight="bold" text-anchor="start" fill="#111" letter-spacing="0.42">MCSF</text>
<text x="126.3" y="190.95" font-size="3.9" font-weight="bold" text-anchor="start" fill="#111" letter-spacing="0.42">MDC</text>
<text x="148" y="190.95" font-size="3.9" font-weight="bold" text-anchor="start" fill="#111" letter-spacing="0.42">MIG</text>
<text x="165.8" y="190.95" font-size="3.9" font-weight="bold" text-anchor="start" fill="#111" letter-spacing="0.42">MIP-1delta</text>
<text x="194.6" y="190.95" font-size="3.9" font-weight="bold" text-anchor="start" fill="#111" letter-spacing="0.42">RANTES</text>
<text x="218" y="190.95" font-size="3.9" font-weight="bold" text-anchor="start" fill="#111" letter-spacing="0.42">SCF</text>
<text x="239.4" y="190.95" font-size="3.9" font-weight="bold" text-anchor="start" fill="#111" letter-spacing="0.42">SDF-1</text>
<text x="257.7" y="190.95" font-size="3.9" font-weight="bold" text-anchor="start" fill="#111" letter-spacing="0.42">TARC</text>
<text x="276.5" y="190.95" font-size="3.9" font-weight="bold" text-anchor="start" fill="#111" letter-spacing="0.42">TGF-&#946;1</text>
<text x="41.6" y="194.85" font-size="3.9" font-weight="bold" text-anchor="middle" fill="#111">6</text>
<text x="47" y="194.85" font-size="3.9" font-weight="bold" text-anchor="start" fill="#111" letter-spacing="0.42">MCP-1</text>
<text x="66" y="194.85" font-size="3.9" font-weight="bold" text-anchor="start" fill="#111" letter-spacing="0.42">MCP-2</text>
<text x="86" y="194.85" font-size="3.9" font-weight="bold" text-anchor="start" fill="#111" letter-spacing="0.42">MCP-3</text>
<text x="107" y="194.85" font-size="3.9" font-weight="bold" text-anchor="start" fill="#111" letter-spacing="0.42">MCSF</text>
<text x="126.3" y="194.85" font-size="3.9" font-weight="bold" text-anchor="start" fill="#111" letter-spacing="0.42">MDC</text>
<text x="148" y="194.85" font-size="3.9" font-weight="bold" text-anchor="start" fill="#111" letter-spacing="0.42">MIG</text>
<text x="165.8" y="194.85" font-size="3.9" font-weight="bold" text-anchor="start" fill="#111" letter-spacing="0.42">MIP-1delta</text>
<text x="194.6" y="194.85" font-size="3.9" font-weight="bold" text-anchor="start" fill="#111" letter-spacing="0.42">RANTES</text>
<text x="218" y="194.85" font-size="3.9" font-weight="bold" text-anchor="start" fill="#111" letter-spacing="0.42">SCF</text>
<text x="239.4" y="194.85" font-size="3.9" font-weight="bold" text-anchor="start" fill="#111" letter-spacing="0.42">SDF-1</text>
<text x="257.7" y="194.85" font-size="3.9" font-weight="bold" text-anchor="start" fill="#111" letter-spacing="0.42">TARC</text>
<text x="276.5" y="194.85" font-size="3.9" font-weight="bold" text-anchor="start" fill="#111" letter-spacing="0.42">TGF-&#946;1</text>
<text x="41.6" y="202.25" font-size="3.9" font-weight="bold" text-anchor="middle" fill="#111">7</text>
<text x="47" y="202.25" font-size="3.9" font-weight="bold" text-anchor="start" fill="#111" letter-spacing="0.42">TNF-&#945;</text>
<text x="66" y="202.25" font-size="3.9" font-weight="bold" text-anchor="start" fill="#111" letter-spacing="0.42">TNF-&#946;</text>
<text x="86" y="202.25" font-size="3.9" font-weight="bold" text-anchor="start" fill="#111" letter-spacing="0.42">EGF</text>
<text x="107" y="202.25" font-size="3.9" font-weight="bold" text-anchor="start" fill="#111" letter-spacing="0.42">IGF-I</text>
<text x="126.3" y="202.25" font-size="3.9" font-weight="bold" text-anchor="start" fill="#111" letter-spacing="0.42">Ang</text>
<text x="148" y="202.25" font-size="3.9" font-weight="bold" text-anchor="start" fill="#111" letter-spacing="0.42">OSM</text>
<text x="165.8" y="202.25" font-size="3.9" font-weight="bold" text-anchor="start" fill="#111" letter-spacing="0.42">Tpo</text>
<text x="194.6" y="202.25" font-size="3.9" font-weight="bold" text-anchor="start" fill="#111" letter-spacing="0.42">VEGF</text>
<text x="218" y="202.25" font-size="3.9" font-weight="bold" text-anchor="start" fill="#111" letter-spacing="0.42">PDGFB</text>
<text x="239.4" y="202.25" font-size="3.9" font-weight="bold" text-anchor="start" fill="#111" letter-spacing="0.42">Leptin</text>
<text x="257.7" y="202.25" font-size="3.9" font-weight="bold" text-anchor="start" fill="#111" letter-spacing="0.42">Neg</text>
<text x="276.5" y="202.25" font-size="3.9" font-weight="bold" text-anchor="start" fill="#111" letter-spacing="0.42">Pos</text>
<text x="41.6" y="206.05" font-size="3.9" font-weight="bold" text-anchor="middle" fill="#111">8</text>
<text x="47" y="206.05" font-size="3.9" font-weight="bold" text-anchor="start" fill="#111" letter-spacing="0.42">TNF-&#945;</text>
<text x="66" y="206.05" font-size="3.9" font-weight="bold" text-anchor="start" fill="#111" letter-spacing="0.42">TNF-&#946;</text>
<text x="86" y="206.05" font-size="3.9" font-weight="bold" text-anchor="start" fill="#111" letter-spacing="0.42">EGF</text>
<text x="107" y="206.05" font-size="3.9" font-weight="bold" text-anchor="start" fill="#111" letter-spacing="0.42">IGF-I</text>
<text x="126.3" y="206.05" font-size="3.9" font-weight="bold" text-anchor="start" fill="#111" letter-spacing="0.42">Ang</text>
<text x="148" y="206.05" font-size="3.9" font-weight="bold" text-anchor="start" fill="#111" letter-spacing="0.42">OSM</text>
<text x="165.8" y="206.05" font-size="3.9" font-weight="bold" text-anchor="start" fill="#111" letter-spacing="0.42">Tpo</text>
<text x="194.6" y="206.05" font-size="3.9" font-weight="bold" text-anchor="start" fill="#111" letter-spacing="0.42">VEGF</text>
<text x="218" y="206.05" font-size="3.9" font-weight="bold" text-anchor="start" fill="#111" letter-spacing="0.42">PDGFB</text>
<text x="239.4" y="206.05" font-size="3.9" font-weight="bold" text-anchor="start" fill="#111" letter-spacing="0.42">Leptin</text>
<text x="257.7" y="206.05" font-size="3.9" font-weight="bold" text-anchor="start" fill="#111" letter-spacing="0.42">Neg</text>
<text x="276.5" y="206.05" font-size="3.9" font-weight="bold" text-anchor="start" fill="#111" letter-spacing="0.42">Pos</text>
<text x="0.6" y="220.6" font-size="11.8" font-weight="bold" text-anchor="start" fill="#000">B</text>
<line x1="1.20" y1="222.70" x2="332.80" y2="222.70" stroke="#b5b5b5" stroke-width="1.0"/>
<line x1="1.20" y1="222.70" x2="1.20" y2="504.60" stroke="#b5b5b5" stroke-width="1.0"/>
<line x1="1.20" y1="504.20" x2="332.80" y2="504.20" stroke="#b8b8b8" stroke-width="1.6"/>
<line x1="332.20" y1="222.70" x2="332.20" y2="504.60" stroke="#c0c0c0" stroke-width="1.6"/>
<line x1="81.50" y1="222.70" x2="81.50" y2="504.00" stroke="#777" stroke-width="0.9"/>
<line x1="167.80" y1="222.70" x2="167.80" y2="504.00" stroke="#aaa" stroke-width="1.0"/>
<line x1="249.60" y1="222.70" x2="249.60" y2="504.00" stroke="#bbb" stroke-width="1.6"/>
<text x="23.6" y="248.50" font-size="3.45" font-weight="bold" text-anchor="end" fill="#000" stroke="#000" stroke-width="0.12">PDS (a)</text>
<text x="23.6" y="253.87" font-size="3.45" font-weight="bold" text-anchor="end" fill="#000" stroke="#000" stroke-width="0.12">PDS (b)</text>
<text x="23.6" y="259.24" font-size="3.45" font-weight="bold" text-anchor="end" fill="#000" stroke="#000" stroke-width="0.12">NEG (a)</text>
<text x="23.6" y="264.61" font-size="3.45" font-weight="bold" text-anchor="end" fill="#000" stroke="#000" stroke-width="0.12">NEG (b)</text>
<text x="23.6" y="269.98" font-size="3.45" font-weight="bold" text-anchor="end" fill="#000" stroke="#000" stroke-width="0.12">ENA-78 (a)</text>
<text x="23.6" y="275.35" font-size="3.45" font-weight="bold" text-anchor="end" fill="#000" stroke="#000" stroke-width="0.12">GCSF (a)</text>
<text x="23.6" y="280.72" font-size="3.45" font-weight="bold" text-anchor="end" fill="#000" stroke="#000" stroke-width="0.12">GM-CSF (a)</text>
<text x="23.6" y="286.09" font-size="3.45" font-weight="bold" text-anchor="end" fill="#000" stroke="#000" stroke-width="0.12">GRO (a)</text>
<text x="23.6" y="291.46" font-size="3.45" font-weight="bold" text-anchor="end" fill="#000" stroke="#000" stroke-width="0.12">GRO-a (a)</text>
<text x="23.6" y="296.83" font-size="3.45" font-weight="bold" text-anchor="end" fill="#000" stroke="#000" stroke-width="0.12">I-309 (a)</text>
<text x="23.6" y="302.20" font-size="3.45" font-weight="bold" text-anchor="end" fill="#000" stroke="#000" stroke-width="0.12">IL-1a (a)</text>
<text x="23.6" y="307.57" font-size="3.45" font-weight="bold" text-anchor="end" fill="#000" stroke="#000" stroke-width="0.12">IL-1b (a)</text>
<text x="23.6" y="312.94" font-size="3.45" font-weight="bold" text-anchor="end" fill="#000" stroke="#000" stroke-width="0.12">IL-2 (a)</text>
<text x="23.6" y="318.31" font-size="3.45" font-weight="bold" text-anchor="end" fill="#000" stroke="#000" stroke-width="0.12">IL-3 (a)</text>
<text x="23.6" y="323.68" font-size="3.45" font-weight="bold" text-anchor="end" fill="#000" stroke="#000" stroke-width="0.12">IL-4 (a)</text>
<text x="23.6" y="329.05" font-size="3.45" font-weight="bold" text-anchor="end" fill="#000" stroke="#000" stroke-width="0.12">IL-5 (a)</text>
<text x="23.6" y="334.42" font-size="3.45" font-weight="bold" text-anchor="end" fill="#000" stroke="#000" stroke-width="0.12">IL-6 (a)</text>
<text x="23.6" y="339.79" font-size="3.45" font-weight="bold" text-anchor="end" fill="#000" stroke="#000" stroke-width="0.12">IL-7 (a)</text>
<text x="23.6" y="345.16" font-size="3.45" font-weight="bold" text-anchor="end" fill="#000" stroke="#000" stroke-width="0.12">IL-8 (a)</text>
<text x="23.6" y="350.53" font-size="3.45" font-weight="bold" text-anchor="end" fill="#000" stroke="#000" stroke-width="0.12">IL-10 (a)</text>
<text x="23.6" y="355.90" font-size="3.45" font-weight="bold" text-anchor="end" fill="#000" stroke="#000" stroke-width="0.12">IL-12 (a)</text>
<text x="23.6" y="361.27" font-size="3.45" font-weight="bold" text-anchor="end" fill="#000" stroke="#000" stroke-width="0.12">IL-13 (a)</text>
<text x="23.6" y="366.64" font-size="3.45" font-weight="bold" text-anchor="end" fill="#000" stroke="#000" stroke-width="0.12">IL-15 (a)</text>
<text x="23.6" y="372.01" font-size="3.45" font-weight="bold" text-anchor="end" fill="#000" stroke="#000" stroke-width="0.12">IFN (a)</text>
<text x="23.6" y="377.38" font-size="3.45" font-weight="bold" text-anchor="end" fill="#000" stroke="#000" stroke-width="0.12">MCP-1 (a)</text>
<text x="23.6" y="382.75" font-size="3.45" font-weight="bold" text-anchor="end" fill="#000" stroke="#000" stroke-width="0.12">MCP-2 (a)</text>
<text x="23.6" y="388.12" font-size="3.45" font-weight="bold" text-anchor="end" fill="#000" stroke="#000" stroke-width="0.12">MCP-3 (a)</text>
<text x="23.6" y="393.49" font-size="3.45" font-weight="bold" text-anchor="end" fill="#000" stroke="#000" stroke-width="0.12">MCSF (a)</text>
<text x="23.6" y="398.86" font-size="3.45" font-weight="bold" text-anchor="end" fill="#000" stroke="#000" stroke-width="0.12">MDC (a)</text>
<text x="23.6" y="404.23" font-size="3.45" font-weight="bold" text-anchor="end" fill="#000" stroke="#000" stroke-width="0.12">MIG (a)</text>
<text x="23.6" y="409.60" font-size="3.45" font-weight="bold" text-anchor="end" fill="#000" stroke="#000" stroke-width="0.12">MIP1-delta (a)</text>
<text x="23.6" y="414.97" font-size="3.45" font-weight="bold" text-anchor="end" fill="#000" stroke="#000" stroke-width="0.12">RANTES (a)</text>
<text x="23.6" y="420.34" font-size="3.45" font-weight="bold" text-anchor="end" fill="#000" stroke="#000" stroke-width="0.12">SCF (a)</text>
<text x="23.6" y="425.71" font-size="3.45" font-weight="bold" text-anchor="end" fill="#000" stroke="#000" stroke-width="0.12">SDF-1 (a)</text>
<text x="23.6" y="431.08" font-size="3.45" font-weight="bold" text-anchor="end" fill="#000" stroke="#000" stroke-width="0.12">TARC (a)</text>
<text x="23.6" y="436.45" font-size="3.45" font-weight="bold" text-anchor="end" fill="#000" stroke="#000" stroke-width="0.12">TGFb-1 (a)</text>
<text x="23.6" y="441.82" font-size="3.45" font-weight="bold" text-anchor="end" fill="#000" stroke="#000" stroke-width="0.12">TNF-a (a)</text>
<text x="23.6" y="447.19" font-size="3.45" font-weight="bold" text-anchor="end" fill="#000" stroke="#000" stroke-width="0.12">TNF-B (a)</text>
<text x="23.6" y="452.56" font-size="3.45" font-weight="bold" text-anchor="end" fill="#000" stroke="#000" stroke-width="0.12">EGF (a)</text>
<text x="23.6" y="457.93" font-size="3.45" font-weight="bold" text-anchor="end" fill="#000" stroke="#000" stroke-width="0.12">IGF-1 (a)</text>
<text x="23.6" y="463.30" font-size="3.45" font-weight="bold" text-anchor="end" fill="#000" stroke="#000" stroke-width="0.12">ANG (a)</text>
<text x="23.6" y="468.67" font-size="3.45" font-weight="bold" text-anchor="end" fill="#000" stroke="#000" stroke-width="0.12">OSM (a)</text>
<text x="23.6" y="474.04" font-size="3.45" font-weight="bold" text-anchor="end" fill="#000" stroke="#000" stroke-width="0.12">TPO (a)</text>
<text x="23.6" y="479.41" font-size="3.45" font-weight="bold" text-anchor="end" fill="#000" stroke="#000" stroke-width="0.12">VEGF (a)</text>
<text x="23.6" y="484.78" font-size="3.45" font-weight="bold" text-anchor="end" fill="#000" stroke="#000" stroke-width="0.12">PDGF-B (a)</text>
<text x="23.6" y="490.15" font-size="3.45" font-weight="bold" text-anchor="end" fill="#000" stroke="#000" stroke-width="0.12">LEPTIN (a)</text>
<text x="23.6" y="495.52" font-size="3.45" font-weight="bold" text-anchor="end" fill="#000" stroke="#000" stroke-width="0.12">NEG (a)</text>
<text x="23.6" y="500.89" font-size="3.45" font-weight="bold" text-anchor="end" fill="#000" stroke="#000" stroke-width="0.12">POS (a)</text>
<text x="48.2" y="230.8" font-size="3.6" font-weight="bold" text-anchor="middle" fill="#000" stroke="#000" stroke-width="0.12">Intensity</text>
<text x="26.5" y="242.5" font-size="3.6" font-weight="bold" text-anchor="middle" fill="#000">0</text>
<text x="32.30" y="242.3" font-size="3.1" font-weight="bold" text-anchor="start" fill="#000" transform="rotate(-90 32.30 242.3)" stroke="#000" stroke-width="0.15">10000</text>
<text x="36.60" y="242.3" font-size="3.1" font-weight="bold" text-anchor="start" fill="#000" transform="rotate(-90 36.60 242.3)" stroke="#000" stroke-width="0.15">20000</text>
<text x="41.80" y="242.3" font-size="3.1" font-weight="bold" text-anchor="start" fill="#000" transform="rotate(-90 41.80 242.3)" stroke="#000" stroke-width="0.15">30000</text>
<text x="47.10" y="242.3" font-size="3.1" font-weight="bold" text-anchor="start" fill="#000" transform="rotate(-90 47.10 242.3)" stroke="#000" stroke-width="0.15">40000</text>
<text x="51.90" y="242.3" font-size="3.1" font-weight="bold" text-anchor="start" fill="#000" transform="rotate(-90 51.90 242.3)" stroke="#000" stroke-width="0.15">50000</text>
<text x="56.60" y="242.3" font-size="3.1" font-weight="bold" text-anchor="start" fill="#000" transform="rotate(-90 56.60 242.3)" stroke="#000" stroke-width="0.15">60000</text>
<text x="61.80" y="242.3" font-size="3.1" font-weight="bold" text-anchor="start" fill="#000" transform="rotate(-90 61.80 242.3)" stroke="#000" stroke-width="0.15">70000</text>
<text x="67.00" y="242.3" font-size="3.1" font-weight="bold" text-anchor="start" fill="#000" transform="rotate(-90 67.00 242.3)" stroke="#000" stroke-width="0.15">80000</text>
<text x="72.10" y="242.3" font-size="3.1" font-weight="bold" text-anchor="start" fill="#000" transform="rotate(-90 72.10 242.3)" stroke="#000" stroke-width="0.15">90000</text>
<rect x="25.70" y="244.90" width="44.90" height="257.60" fill="#fff" stroke="#c4c4c4" stroke-width="0.6"/>
<rect x="25.70" y="245.10" width="34.20" height="1.90" fill="#645c8e"/>
<rect x="25.70" y="247.00" width="34.20" height="2.30" fill="#3a2047"/>
<rect x="25.70" y="250.47" width="31.10" height="1.90" fill="#645c8e"/>
<rect x="25.70" y="252.37" width="29.80" height="2.30" fill="#3a2047"/>
<line x1="56.80" y1="252.57" x2="67.70" y2="252.57" stroke="#444" stroke-width="0.5"/>
<line x1="67.70" y1="251.47" x2="67.70" y2="253.67" stroke="#444" stroke-width="0.5"/>
<rect x="25.70" y="256.64" width="0.96" height="2.80" fill="#2a2a2a"/>
<rect x="25.70" y="262.01" width="0.55" height="2.80" fill="#2a2a2a"/>
<rect x="25.70" y="267.38" width="0.88" height="2.80" fill="#2a2a2a"/>
<rect x="25.70" y="272.75" width="0.76" height="2.80" fill="#2a2a2a"/>
<rect x="25.70" y="278.12" width="0.54" height="2.80" fill="#2a2a2a"/>
<rect x="25.70" y="283.49" width="0.86" height="2.80" fill="#2a2a2a"/>
<rect x="25.70" y="288.86" width="0.53" height="2.80" fill="#2a2a2a"/>
<rect x="25.70" y="294.23" width="0.80" height="2.80" fill="#2a2a2a"/>
<rect x="25.70" y="299.60" width="0.55" height="2.80" fill="#2a2a2a"/>
<rect x="25.70" y="304.97" width="0.56" height="2.80" fill="#2a2a2a"/>
<rect x="25.70" y="310.34" width="0.80" height="2.80" fill="#2a2a2a"/>
<rect x="25.70" y="315.71" width="1.08" height="2.80" fill="#2a2a2a"/>
<rect x="25.70" y="321.08" width="0.59" height="2.80" fill="#2a2a2a"/>
<rect x="25.70" y="326.45" width="0.66" height="2.80" fill="#2a2a2a"/>
<rect x="25.70" y="331.82" width="0.94" height="2.80" fill="#2a2a2a"/>
<rect x="25.70" y="337.19" width="1.16" height="2.80" fill="#2a2a2a"/>
<rect x="25.70" y="342.56" width="0.90" height="2.80" fill="#2a2a2a"/>
<rect x="25.70" y="347.93" width="0.78" height="2.80" fill="#2a2a2a"/>
<rect x="25.70" y="353.30" width="1.18" height="2.80" fill="#2a2a2a"/>
<rect x="25.70" y="358.67" width="0.53" height="2.80" fill="#2a2a2a"/>
<rect x="25.70" y="364.04" width="1.10" height="2.80" fill="#2a2a2a"/>
<rect x="25.70" y="369.41" width="0.70" height="2.80" fill="#2a2a2a"/>
<rect x="25.70" y="374.78" width="0.60" height="2.80" fill="#2a2a2a"/>
<rect x="25.70" y="380.15" width="0.58" height="2.80" fill="#2a2a2a"/>
<rect x="25.70" y="385.52" width="0.72" height="2.80" fill="#2a2a2a"/>
<rect x="25.70" y="390.89" width="1.07" height="2.80" fill="#2a2a2a"/>
<rect x="25.70" y="396.26" width="0.63" height="2.80" fill="#2a2a2a"/>
<rect x="25.70" y="401.63" width="0.91" height="2.80" fill="#2a2a2a"/>
<rect x="25.70" y="407.00" width="0.95" height="2.80" fill="#2a2a2a"/>
<rect x="25.70" y="412.37" width="0.76" height="2.80" fill="#2a2a2a"/>
<rect x="25.70" y="417.74" width="0.88" height="2.80" fill="#2a2a2a"/>
<rect x="25.70" y="423.11" width="0.54" height="2.80" fill="#2a2a2a"/>
<rect x="25.70" y="428.48" width="0.54" height="2.80" fill="#2a2a2a"/>
<rect x="25.70" y="433.85" width="0.64" height="2.80" fill="#2a2a2a"/>
<rect x="25.70" y="439.22" width="0.98" height="2.80" fill="#2a2a2a"/>
<rect x="25.70" y="444.59" width="0.80" height="2.80" fill="#2a2a2a"/>
<rect x="25.70" y="449.96" width="0.72" height="2.80" fill="#2a2a2a"/>
<rect x="25.70" y="454.53" width="3.10" height="1.90" fill="#645c8e"/>
<rect x="25.70" y="456.43" width="2.00" height="2.30" fill="#3a2047"/>
<line x1="28.80" y1="456.63" x2="33.70" y2="456.63" stroke="#444" stroke-width="0.5"/>
<line x1="33.70" y1="455.53" x2="33.70" y2="457.73" stroke="#444" stroke-width="0.5"/>
<rect x="25.70" y="460.70" width="0.82" height="2.80" fill="#2a2a2a"/>
<rect x="25.70" y="466.07" width="0.71" height="2.80" fill="#2a2a2a"/>
<rect x="25.70" y="471.44" width="1.06" height="2.80" fill="#2a2a2a"/>
<rect x="25.70" y="476.81" width="0.99" height="2.80" fill="#2a2a2a"/>
<rect x="25.70" y="482.18" width="0.67" height="2.80" fill="#2a2a2a"/>
<rect x="25.70" y="487.55" width="0.90" height="2.80" fill="#2a2a2a"/>
<rect x="25.70" y="492.92" width="0.87" height="2.80" fill="#2a2a2a"/>
<rect x="25.70" y="497.49" width="23.90" height="1.90" fill="#645c8e"/>
<rect x="25.70" y="499.39" width="23.90" height="2.30" fill="#3a2047"/>
<line x1="49.60" y1="499.59" x2="56.20" y2="499.59" stroke="#444" stroke-width="0.5"/>
<line x1="56.20" y1="498.49" x2="56.20" y2="500.69" stroke="#444" stroke-width="0.5"/>
<line x1="25.70" y1="244.90" x2="25.70" y2="502.50" stroke="#333" stroke-width="0.6"/>
<line x1="25.70" y1="502.50" x2="70.60" y2="502.50" stroke="#555" stroke-width="0.7"/>
<text x="73.8" y="364.2" font-size="4.6" font-weight="bold" text-anchor="middle" fill="#000" transform="rotate(90 73.8 364.2)" stroke="#000" stroke-width="0.12">Resting</text>
<text x="64.8" y="480.5" font-size="3.9" font-weight="bold" text-anchor="start" fill="#000" transform="rotate(90 64.8 480.5)" stroke="#000" stroke-width="0.1">&#9633; - Aspirin</text>
<text x="58.8" y="480.5" font-size="3.9" font-weight="bold" text-anchor="start" fill="#000" transform="rotate(90 58.8 480.5)" stroke="#000" stroke-width="0.1">&#9632; + Aspirin</text>
<text x="121.6" y="231.0" font-size="3.6" font-weight="bold" text-anchor="middle" fill="#000" stroke="#000" stroke-width="0.12">Intensity</text>
<text x="87.7" y="242.5" font-size="3.6" font-weight="bold" text-anchor="middle" fill="#000">0</text>
<text x="100.10" y="242.4" font-size="3.1" font-weight="bold" text-anchor="start" fill="#000" transform="rotate(-90 100.10 242.4)" stroke="#000" stroke-width="0.15">20000</text>
<text x="111.70" y="242.4" font-size="3.1" font-weight="bold" text-anchor="start" fill="#000" transform="rotate(-90 111.70 242.4)" stroke="#000" stroke-width="0.15">40000</text>
<text x="123.30" y="242.4" font-size="3.1" font-weight="bold" text-anchor="start" fill="#000" transform="rotate(-90 123.30 242.4)" stroke="#000" stroke-width="0.15">60000</text>
<text x="134.30" y="242.4" font-size="3.1" font-weight="bold" text-anchor="start" fill="#000" transform="rotate(-90 134.30 242.4)" stroke="#000" stroke-width="0.15">80000</text>
<text x="145.90" y="242.4" font-size="3.1" font-weight="bold" text-anchor="start" fill="#000" transform="rotate(-90 145.90 242.4)" stroke="#000" stroke-width="0.15">10000</text>
<text x="157.50" y="242.4" font-size="3.1" font-weight="bold" text-anchor="start" fill="#000" transform="rotate(-90 157.50 242.4)" stroke="#000" stroke-width="0.15">12000</text>
<rect x="87.50" y="244.80" width="69.50" height="257.70" fill="#fff" stroke="#c4c4c4" stroke-width="0.6"/>
<rect x="87.50" y="245.10" width="54.40" height="1.90" fill="#645c8e"/>
<rect x="87.50" y="247.00" width="54.40" height="2.30" fill="#3a2047"/>
<rect x="87.50" y="250.47" width="54.00" height="1.90" fill="#645c8e"/>
<rect x="87.50" y="252.37" width="50.50" height="2.30" fill="#3a2047"/>
<line x1="141.50" y1="252.57" x2="146.90" y2="252.57" stroke="#444" stroke-width="0.5"/>
<line x1="146.90" y1="251.47" x2="146.90" y2="253.67" stroke="#444" stroke-width="0.5"/>
<rect x="87.50" y="256.64" width="2.56" height="2.80" fill="#2a2a2a"/>
<rect x="87.50" y="262.01" width="1.01" height="2.80" fill="#2a2a2a"/>
<rect x="87.50" y="267.38" width="1.55" height="2.80" fill="#2a2a2a"/>
<rect x="87.50" y="272.75" width="2.16" height="2.80" fill="#2a2a2a"/>
<rect x="87.50" y="278.12" width="1.07" height="2.80" fill="#2a2a2a"/>
<rect x="87.50" y="283.49" width="1.68" height="2.80" fill="#2a2a2a"/>
<rect x="87.50" y="288.86" width="0.87" height="2.80" fill="#2a2a2a"/>
<rect x="87.50" y="294.23" width="2.00" height="2.80" fill="#2a2a2a"/>
<rect x="87.50" y="298.80" width="6.00" height="1.90" fill="#645c8e"/>
<rect x="87.50" y="300.70" width="3.50" height="2.30" fill="#3a2047"/>
<line x1="93.50" y1="300.90" x2="98.40" y2="300.90" stroke="#444" stroke-width="0.5"/>
<line x1="98.40" y1="299.80" x2="98.40" y2="302.00" stroke="#444" stroke-width="0.5"/>
<rect x="87.50" y="304.97" width="1.83" height="2.80" fill="#2a2a2a"/>
<rect x="87.50" y="310.34" width="2.38" height="2.80" fill="#2a2a2a"/>
<rect x="87.50" y="315.71" width="1.36" height="2.80" fill="#2a2a2a"/>
<rect x="87.50" y="321.08" width="2.05" height="2.80" fill="#2a2a2a"/>
<rect x="87.50" y="326.45" width="1.87" height="2.80" fill="#2a2a2a"/>
<rect x="87.50" y="331.82" width="1.84" height="2.80" fill="#2a2a2a"/>
<rect x="87.50" y="337.19" width="1.62" height="2.80" fill="#2a2a2a"/>
<rect x="87.50" y="341.76" width="2.50" height="1.90" fill="#645c8e"/>
<rect x="87.50" y="343.66" width="1.50" height="2.30" fill="#3a2047"/>
<rect x="87.50" y="347.93" width="2.50" height="2.80" fill="#2a2a2a"/>
<rect x="87.50" y="353.30" width="1.65" height="2.80" fill="#2a2a2a"/>
<rect x="87.50" y="358.67" width="2.00" height="2.80" fill="#2a2a2a"/>
<rect x="87.50" y="364.04" width="0.91" height="2.80" fill="#2a2a2a"/>
<rect x="87.50" y="369.41" width="2.06" height="2.80" fill="#2a2a2a"/>
<rect x="87.50" y="374.78" width="1.96" height="2.80" fill="#2a2a2a"/>
<rect x="87.50" y="380.15" width="2.59" height="2.80" fill="#2a2a2a"/>
<rect x="87.50" y="385.52" width="2.28" height="2.80" fill="#2a2a2a"/>
<rect x="87.50" y="390.89" width="1.31" height="2.80" fill="#2a2a2a"/>
<rect x="87.50" y="396.26" width="1.49" height="2.80" fill="#2a2a2a"/>
<rect x="87.50" y="401.63" width="2.00" height="2.80" fill="#2a2a2a"/>
<rect x="87.50" y="407.00" width="0.84" height="2.80" fill="#2a2a2a"/>
<rect x="87.50" y="411.57" width="38.80" height="1.90" fill="#645c8e"/>
<rect x="87.50" y="413.47" width="26.10" height="2.30" fill="#3a2047"/>
<line x1="126.30" y1="413.67" x2="131.60" y2="413.67" stroke="#444" stroke-width="0.5"/>
<line x1="131.60" y1="412.57" x2="131.60" y2="414.77" stroke="#444" stroke-width="0.5"/>
<rect x="87.50" y="417.74" width="1.10" height="2.80" fill="#2a2a2a"/>
<rect x="87.50" y="423.11" width="1.01" height="2.80" fill="#2a2a2a"/>
<rect x="87.50" y="427.68" width="37.50" height="1.90" fill="#645c8e"/>
<rect x="87.50" y="429.58" width="23.90" height="2.30" fill="#3a2047"/>
<line x1="125.00" y1="429.78" x2="134.00" y2="429.78" stroke="#444" stroke-width="0.5"/>
<line x1="134.00" y1="428.68" x2="134.00" y2="430.88" stroke="#444" stroke-width="0.5"/>
<rect x="87.50" y="433.85" width="2.18" height="2.80" fill="#2a2a2a"/>
<rect x="87.50" y="439.22" width="1.03" height="2.80" fill="#2a2a2a"/>
<rect x="87.50" y="444.59" width="1.25" height="2.80" fill="#2a2a2a"/>
<rect x="87.50" y="449.96" width="1.50" height="2.80" fill="#2a2a2a"/>
<rect x="87.50" y="455.33" width="2.37" height="2.80" fill="#2a2a2a"/>
<rect x="87.50" y="460.70" width="0.95" height="2.80" fill="#2a2a2a"/>
<rect x="87.50" y="466.07" width="1.61" height="2.80" fill="#2a2a2a"/>
<rect x="87.50" y="471.44" width="1.79" height="2.80" fill="#2a2a2a"/>
<rect x="87.50" y="476.01" width="7.20" height="1.90" fill="#645c8e"/>
<rect x="87.50" y="477.91" width="5.10" height="2.30" fill="#3a2047"/>
<line x1="94.70" y1="478.11" x2="98.80" y2="478.11" stroke="#444" stroke-width="0.5"/>
<line x1="98.80" y1="477.01" x2="98.80" y2="479.21" stroke="#444" stroke-width="0.5"/>
<rect x="87.50" y="481.38" width="23.90" height="1.90" fill="#645c8e"/>
<rect x="87.50" y="483.28" width="8.20" height="2.30" fill="#3a2047"/>
<line x1="111.40" y1="483.48" x2="122.90" y2="483.48" stroke="#444" stroke-width="0.5"/>
<line x1="122.90" y1="482.38" x2="122.90" y2="484.58" stroke="#444" stroke-width="0.5"/>
<rect x="87.50" y="487.55" width="2.36" height="2.80" fill="#2a2a2a"/>
<rect x="87.50" y="492.92" width="1.30" height="2.80" fill="#2a2a2a"/>
<rect x="87.50" y="497.49" width="60.00" height="1.90" fill="#645c8e"/>
<rect x="87.50" y="499.39" width="51.20" height="2.30" fill="#3a2047"/>
<line x1="147.50" y1="499.59" x2="154.50" y2="499.59" stroke="#444" stroke-width="0.5"/>
<line x1="154.50" y1="498.49" x2="154.50" y2="500.69" stroke="#444" stroke-width="0.5"/>
<line x1="87.50" y1="244.80" x2="87.50" y2="502.50" stroke="#333" stroke-width="0.6"/>
<line x1="87.50" y1="502.50" x2="157.00" y2="502.50" stroke="#555" stroke-width="0.7"/>
<text x="160.0" y="363.9" font-size="4.6" font-weight="bold" text-anchor="middle" fill="#000" transform="rotate(90 160.0 363.9)" stroke="#000" stroke-width="0.12">ADP</text>
<text x="146.7" y="481.0" font-size="3.9" font-weight="bold" text-anchor="start" fill="#000" transform="rotate(90 146.7 481.0)" stroke="#000" stroke-width="0.1">&#9633; - Aspirin</text>
<text x="140.7" y="481.0" font-size="3.9" font-weight="bold" text-anchor="start" fill="#000" transform="rotate(90 140.7 481.0)" stroke="#000" stroke-width="0.1">&#9632; + Aspirin</text>
<text x="205.8" y="230.6" font-size="3.6" font-weight="bold" text-anchor="middle" fill="#000" stroke="#000" stroke-width="0.12">Intensity</text>
<text x="174.1" y="242.5" font-size="3.6" font-weight="bold" text-anchor="middle" fill="#000">0</text>
<text x="184.50" y="242.4" font-size="3.1" font-weight="bold" text-anchor="start" fill="#000" transform="rotate(-90 184.50 242.4)" stroke="#000" stroke-width="0.15">10000</text>
<text x="193.20" y="242.4" font-size="3.1" font-weight="bold" text-anchor="start" fill="#000" transform="rotate(-90 193.20 242.4)" stroke="#000" stroke-width="0.15">20000</text>
<text x="202.90" y="242.4" font-size="3.1" font-weight="bold" text-anchor="start" fill="#000" transform="rotate(-90 202.90 242.4)" stroke="#000" stroke-width="0.15">30000</text>
<text x="212.00" y="242.4" font-size="3.1" font-weight="bold" text-anchor="start" fill="#000" transform="rotate(-90 212.00 242.4)" stroke="#000" stroke-width="0.15">40000</text>
<text x="221.30" y="242.4" font-size="3.1" font-weight="bold" text-anchor="start" fill="#000" transform="rotate(-90 221.30 242.4)" stroke="#000" stroke-width="0.15">50000</text>
<text x="230.60" y="242.4" font-size="3.1" font-weight="bold" text-anchor="start" fill="#000" transform="rotate(-90 230.60 242.4)" stroke="#000" stroke-width="0.15">60000</text>
<text x="239.70" y="242.4" font-size="3.1" font-weight="bold" text-anchor="start" fill="#000" transform="rotate(-90 239.70 242.4)" stroke="#000" stroke-width="0.15">70000</text>
<rect x="174.10" y="244.30" width="64.50" height="258.20" fill="#fff" stroke="#c4c4c4" stroke-width="0.6"/>
<rect x="174.10" y="244.50" width="41.30" height="1.90" fill="#645c8e"/>
<rect x="174.10" y="246.40" width="41.30" height="2.30" fill="#3a2047"/>
<rect x="174.10" y="249.90" width="40.30" height="1.90" fill="#645c8e"/>
<rect x="174.10" y="251.80" width="40.30" height="2.30" fill="#3a2047"/>
<line x1="214.40" y1="252.00" x2="217.30" y2="252.00" stroke="#444" stroke-width="0.5"/>
<line x1="217.30" y1="250.90" x2="217.30" y2="253.09" stroke="#444" stroke-width="0.5"/>
<rect x="174.10" y="256.09" width="1.95" height="2.80" fill="#2a2a2a"/>
<rect x="174.10" y="261.48" width="0.98" height="2.80" fill="#2a2a2a"/>
<rect x="174.10" y="266.88" width="1.01" height="2.80" fill="#2a2a2a"/>
<rect x="174.10" y="271.47" width="2.50" height="1.90" fill="#645c8e"/>
<rect x="174.10" y="273.38" width="1.50" height="2.30" fill="#3a2047"/>
<line x1="176.60" y1="273.57" x2="178.60" y2="273.57" stroke="#444" stroke-width="0.5"/>
<line x1="178.60" y1="272.47" x2="178.60" y2="274.68" stroke="#444" stroke-width="0.5"/>
<rect x="174.10" y="276.87" width="2.00" height="1.90" fill="#645c8e"/>
<rect x="174.10" y="278.77" width="1.50" height="2.30" fill="#3a2047"/>
<line x1="176.10" y1="278.97" x2="179.10" y2="278.97" stroke="#444" stroke-width="0.5"/>
<line x1="179.10" y1="277.87" x2="179.10" y2="280.07" stroke="#444" stroke-width="0.5"/>
<rect x="174.10" y="282.26" width="11.30" height="1.90" fill="#645c8e"/>
<rect x="174.10" y="284.17" width="8.00" height="2.30" fill="#3a2047"/>
<line x1="185.40" y1="284.37" x2="191.20" y2="284.37" stroke="#444" stroke-width="0.5"/>
<line x1="191.20" y1="283.26" x2="191.20" y2="285.47" stroke="#444" stroke-width="0.5"/>
<rect x="174.10" y="288.46" width="1.51" height="2.80" fill="#2a2a2a"/>
<rect x="174.10" y="293.85" width="1.12" height="2.80" fill="#2a2a2a"/>
<rect x="174.10" y="298.45" width="3.00" height="1.90" fill="#645c8e"/>
<rect x="174.10" y="300.35" width="2.00" height="2.30" fill="#3a2047"/>
<line x1="177.10" y1="300.55" x2="179.10" y2="300.55" stroke="#444" stroke-width="0.5"/>
<line x1="179.10" y1="299.45" x2="179.10" y2="301.65" stroke="#444" stroke-width="0.5"/>
<rect x="174.10" y="304.64" width="1.30" height="2.80" fill="#2a2a2a"/>
<rect x="174.10" y="310.04" width="1.24" height="2.80" fill="#2a2a2a"/>
<rect x="174.10" y="315.44" width="1.48" height="2.80" fill="#2a2a2a"/>
<rect x="174.10" y="320.83" width="1.94" height="2.80" fill="#2a2a2a"/>
<rect x="174.10" y="326.22" width="1.63" height="2.80" fill="#2a2a2a"/>
<rect x="174.10" y="331.62" width="1.42" height="2.80" fill="#2a2a2a"/>
<rect x="174.10" y="337.01" width="1.54" height="2.80" fill="#2a2a2a"/>
<rect x="174.10" y="341.61" width="10.70" height="1.90" fill="#645c8e"/>
<rect x="174.10" y="343.51" width="7.00" height="2.30" fill="#3a2047"/>
<line x1="184.80" y1="343.71" x2="188.10" y2="343.71" stroke="#444" stroke-width="0.5"/>
<line x1="188.10" y1="342.61" x2="188.10" y2="344.81" stroke="#444" stroke-width="0.5"/>
<rect x="174.10" y="347.00" width="7.70" height="1.90" fill="#645c8e"/>
<rect x="174.10" y="348.91" width="5.00" height="2.30" fill="#3a2047"/>
<line x1="181.80" y1="349.11" x2="184.80" y2="349.11" stroke="#444" stroke-width="0.5"/>
<line x1="184.80" y1="348.00" x2="184.80" y2="350.21" stroke="#444" stroke-width="0.5"/>
<rect x="174.10" y="353.20" width="1.88" height="2.80" fill="#2a2a2a"/>
<rect x="174.10" y="358.59" width="1.74" height="2.80" fill="#2a2a2a"/>
<rect x="174.10" y="363.99" width="1.85" height="2.80" fill="#2a2a2a"/>
<rect x="174.10" y="368.58" width="2.50" height="1.90" fill="#645c8e"/>
<rect x="174.10" y="370.49" width="1.50" height="2.30" fill="#3a2047"/>
<line x1="176.60" y1="370.69" x2="178.80" y2="370.69" stroke="#444" stroke-width="0.5"/>
<line x1="178.80" y1="369.58" x2="178.80" y2="371.79" stroke="#444" stroke-width="0.5"/>
<rect x="174.10" y="374.78" width="1.27" height="2.80" fill="#2a2a2a"/>
<rect x="174.10" y="379.38" width="7.70" height="1.90" fill="#645c8e"/>
<rect x="174.10" y="381.28" width="5.00" height="2.30" fill="#3a2047"/>
<line x1="181.80" y1="381.48" x2="185.80" y2="381.48" stroke="#444" stroke-width="0.5"/>
<line x1="185.80" y1="380.38" x2="185.80" y2="382.58" stroke="#444" stroke-width="0.5"/>
<rect x="174.10" y="384.77" width="3.80" height="1.90" fill="#645c8e"/>
<rect x="174.10" y="386.67" width="2.50" height="2.30" fill="#3a2047"/>
<line x1="177.90" y1="386.87" x2="179.80" y2="386.87" stroke="#444" stroke-width="0.5"/>
<line x1="179.80" y1="385.77" x2="179.80" y2="387.97" stroke="#444" stroke-width="0.5"/>
<rect x="174.10" y="390.16" width="9.70" height="1.90" fill="#645c8e"/>
<rect x="174.10" y="392.06" width="9.00" height="2.30" fill="#3a2047"/>
<rect x="174.10" y="395.56" width="5.70" height="1.90" fill="#645c8e"/>
<rect x="174.10" y="397.46" width="4.00" height="2.30" fill="#3a2047"/>
<rect x="174.10" y="400.95" width="4.20" height="1.90" fill="#645c8e"/>
<rect x="174.10" y="402.85" width="3.00" height="2.30" fill="#3a2047"/>
<line x1="178.30" y1="403.05" x2="180.20" y2="403.05" stroke="#444" stroke-width="0.5"/>
<line x1="180.20" y1="401.95" x2="180.20" y2="404.15" stroke="#444" stroke-width="0.5"/>
<rect x="174.10" y="406.35" width="10.90" height="1.90" fill="#645c8e"/>
<rect x="174.10" y="408.25" width="10.00" height="2.30" fill="#3a2047"/>
<rect x="174.10" y="411.74" width="31.70" height="1.90" fill="#645c8e"/>
<rect x="174.10" y="413.64" width="12.90" height="2.30" fill="#3a2047"/>
<line x1="205.80" y1="413.84" x2="212.50" y2="413.84" stroke="#444" stroke-width="0.5"/>
<line x1="212.50" y1="412.74" x2="212.50" y2="414.94" stroke="#444" stroke-width="0.5"/>
<rect x="174.10" y="417.14" width="4.50" height="1.90" fill="#645c8e"/>
<rect x="174.10" y="419.04" width="3.00" height="2.30" fill="#3a2047"/>
<line x1="178.60" y1="419.24" x2="180.10" y2="419.24" stroke="#444" stroke-width="0.5"/>
<line x1="180.10" y1="418.14" x2="180.10" y2="420.34" stroke="#444" stroke-width="0.5"/>
<rect x="174.10" y="423.33" width="0.86" height="2.80" fill="#2a2a2a"/>
<rect x="174.10" y="427.93" width="43.20" height="1.90" fill="#645c8e"/>
<rect x="174.10" y="429.83" width="33.80" height="2.30" fill="#3a2047"/>
<line x1="217.30" y1="430.03" x2="226.70" y2="430.03" stroke="#444" stroke-width="0.5"/>
<line x1="226.70" y1="428.93" x2="226.70" y2="431.13" stroke="#444" stroke-width="0.5"/>
<rect x="174.10" y="434.12" width="0.98" height="2.80" fill="#2a2a2a"/>
<rect x="174.10" y="438.72" width="7.60" height="1.90" fill="#645c8e"/>
<rect x="174.10" y="440.62" width="5.00" height="2.30" fill="#3a2047"/>
<line x1="181.70" y1="440.82" x2="189.00" y2="440.82" stroke="#444" stroke-width="0.5"/>
<line x1="189.00" y1="439.72" x2="189.00" y2="441.92" stroke="#444" stroke-width="0.5"/>
<rect x="174.10" y="444.11" width="6.60" height="1.90" fill="#645c8e"/>
<rect x="174.10" y="446.01" width="5.00" height="2.30" fill="#3a2047"/>
<line x1="180.70" y1="446.21" x2="183.10" y2="446.21" stroke="#444" stroke-width="0.5"/>
<line x1="183.10" y1="445.11" x2="183.10" y2="447.31" stroke="#444" stroke-width="0.5"/>
<rect x="174.10" y="449.51" width="29.60" height="1.90" fill="#645c8e"/>
<rect x="174.10" y="451.41" width="19.10" height="2.30" fill="#3a2047"/>
<line x1="203.70" y1="451.61" x2="210.40" y2="451.61" stroke="#444" stroke-width="0.5"/>
<line x1="210.40" y1="450.51" x2="210.40" y2="452.71" stroke="#444" stroke-width="0.5"/>
<rect x="174.10" y="455.70" width="1.85" height="2.80" fill="#2a2a2a"/>
<rect x="174.10" y="460.30" width="13.90" height="1.90" fill="#645c8e"/>
<rect x="174.10" y="462.20" width="10.00" height="2.30" fill="#3a2047"/>
<line x1="188.00" y1="462.40" x2="199.10" y2="462.40" stroke="#444" stroke-width="0.5"/>
<line x1="199.10" y1="461.30" x2="199.10" y2="463.50" stroke="#444" stroke-width="0.5"/>
<rect x="174.10" y="465.69" width="9.70" height="1.90" fill="#645c8e"/>
<rect x="174.10" y="467.59" width="7.00" height="2.30" fill="#3a2047"/>
<line x1="183.80" y1="467.79" x2="188.00" y2="467.79" stroke="#444" stroke-width="0.5"/>
<line x1="188.00" y1="466.69" x2="188.00" y2="468.89" stroke="#444" stroke-width="0.5"/>
<rect x="174.10" y="471.09" width="9.70" height="1.90" fill="#645c8e"/>
<rect x="174.10" y="472.99" width="7.00" height="2.30" fill="#3a2047"/>
<line x1="183.80" y1="473.19" x2="191.60" y2="473.19" stroke="#444" stroke-width="0.5"/>
<line x1="191.60" y1="472.09" x2="191.60" y2="474.29" stroke="#444" stroke-width="0.5"/>
<rect x="174.10" y="476.48" width="11.80" height="1.90" fill="#645c8e"/>
<rect x="174.10" y="478.38" width="9.00" height="2.30" fill="#3a2047"/>
<line x1="185.90" y1="478.58" x2="191.60" y2="478.58" stroke="#444" stroke-width="0.5"/>
<line x1="191.60" y1="477.48" x2="191.60" y2="479.69" stroke="#444" stroke-width="0.5"/>
<rect x="174.10" y="481.88" width="29.60" height="1.90" fill="#645c8e"/>
<rect x="174.10" y="483.78" width="11.80" height="2.30" fill="#3a2047"/>
<line x1="203.70" y1="483.98" x2="214.60" y2="483.98" stroke="#444" stroke-width="0.5"/>
<line x1="214.60" y1="482.88" x2="214.60" y2="485.08" stroke="#444" stroke-width="0.5"/>
<rect x="174.10" y="488.07" width="0.95" height="2.80" fill="#2a2a2a"/>
<rect x="174.10" y="493.47" width="1.82" height="2.80" fill="#2a2a2a"/>
<rect x="174.10" y="498.06" width="44.30" height="1.90" fill="#645c8e"/>
<rect x="174.10" y="499.96" width="45.30" height="2.30" fill="#3a2047"/>
<line x1="174.10" y1="244.30" x2="174.10" y2="502.50" stroke="#333" stroke-width="0.6"/>
<line x1="174.10" y1="502.50" x2="238.60" y2="502.50" stroke="#555" stroke-width="0.7"/>
<text x="242.8" y="363.9" font-size="4.6" font-weight="bold" text-anchor="middle" fill="#000" transform="rotate(90 242.8 363.9)" stroke="#000" stroke-width="0.12">Collagen</text>
<text x="229.1" y="480.6" font-size="3.9" font-weight="bold" text-anchor="start" fill="#000" transform="rotate(90 229.1 480.6)" stroke="#000" stroke-width="0.1">&#9633; - Aspirin</text>
<text x="223.1" y="480.6" font-size="3.9" font-weight="bold" text-anchor="start" fill="#000" transform="rotate(90 223.1 480.6)" stroke="#000" stroke-width="0.1">&#9632; + Aspirin</text>
<text x="287.9" y="227.5" font-size="3.6" font-weight="bold" text-anchor="middle" fill="#000" stroke="#000" stroke-width="0.12">Intensity</text>
<text x="256.7" y="239.4" font-size="3.6" font-weight="bold" text-anchor="middle" fill="#000">0</text>
<text x="268.50" y="238.6" font-size="3.1" font-weight="bold" text-anchor="start" fill="#000" transform="rotate(-90 268.50 238.6)" stroke="#000" stroke-width="0.15">20000</text>
<text x="279.10" y="238.6" font-size="3.1" font-weight="bold" text-anchor="start" fill="#000" transform="rotate(-90 279.10 238.6)" stroke="#000" stroke-width="0.15">40000</text>
<text x="289.80" y="238.6" font-size="3.1" font-weight="bold" text-anchor="start" fill="#000" transform="rotate(-90 289.80 238.6)" stroke="#000" stroke-width="0.15">60000</text>
<text x="299.90" y="238.6" font-size="3.1" font-weight="bold" text-anchor="start" fill="#000" transform="rotate(-90 299.90 238.6)" stroke="#000" stroke-width="0.15">80000</text>
<text x="310.70" y="238.6" font-size="3.1" font-weight="bold" text-anchor="start" fill="#000" transform="rotate(-90 310.70 238.6)" stroke="#000" stroke-width="0.15">10000</text>
<text x="321.20" y="238.6" font-size="3.1" font-weight="bold" text-anchor="start" fill="#000" transform="rotate(-90 321.20 238.6)" stroke="#000" stroke-width="0.15">12000</text>
<rect x="256.40" y="241.00" width="63.20" height="261.50" fill="#fff" stroke="#c4c4c4" stroke-width="0.6"/>
<rect x="256.40" y="241.90" width="50.70" height="1.90" fill="#645c8e"/>
<rect x="256.40" y="243.80" width="50.70" height="2.30" fill="#3a2047"/>
<rect x="256.40" y="247.34" width="49.80" height="1.90" fill="#645c8e"/>
<rect x="256.40" y="249.24" width="49.80" height="2.30" fill="#3a2047"/>
<line x1="306.20" y1="249.44" x2="308.50" y2="249.44" stroke="#444" stroke-width="0.5"/>
<line x1="308.50" y1="248.34" x2="308.50" y2="250.54" stroke="#444" stroke-width="0.5"/>
<rect x="256.40" y="253.58" width="0.94" height="2.80" fill="#2a2a2a"/>
<rect x="256.40" y="259.02" width="0.96" height="2.80" fill="#2a2a2a"/>
<rect x="256.40" y="264.46" width="1.35" height="2.80" fill="#2a2a2a"/>
<rect x="256.40" y="269.90" width="1.22" height="2.80" fill="#2a2a2a"/>
<rect x="256.40" y="275.34" width="2.13" height="2.80" fill="#2a2a2a"/>
<rect x="256.40" y="279.98" width="6.10" height="1.90" fill="#645c8e"/>
<rect x="256.40" y="281.88" width="4.00" height="2.30" fill="#3a2047"/>
<line x1="262.50" y1="282.08" x2="271.30" y2="282.08" stroke="#444" stroke-width="0.5"/>
<line x1="271.30" y1="280.98" x2="271.30" y2="283.18" stroke="#444" stroke-width="0.5"/>
<rect x="256.40" y="286.22" width="0.84" height="2.80" fill="#2a2a2a"/>
<rect x="256.40" y="291.66" width="2.32" height="2.80" fill="#2a2a2a"/>
<rect x="256.40" y="296.30" width="1.60" height="1.90" fill="#645c8e"/>
<rect x="256.40" y="298.20" width="1.00" height="2.30" fill="#3a2047"/>
<line x1="258.00" y1="298.40" x2="259.60" y2="298.40" stroke="#444" stroke-width="0.5"/>
<line x1="259.60" y1="297.30" x2="259.60" y2="299.50" stroke="#444" stroke-width="0.5"/>
<rect x="256.40" y="302.54" width="1.03" height="2.80" fill="#2a2a2a"/>
<rect x="256.40" y="307.98" width="1.67" height="2.80" fill="#2a2a2a"/>
<rect x="256.40" y="313.42" width="0.84" height="2.80" fill="#2a2a2a"/>
<rect x="256.40" y="318.86" width="1.64" height="2.80" fill="#2a2a2a"/>
<rect x="256.40" y="324.30" width="2.37" height="2.80" fill="#2a2a2a"/>
<rect x="256.40" y="329.74" width="2.18" height="2.80" fill="#2a2a2a"/>
<rect x="256.40" y="335.18" width="1.91" height="2.80" fill="#2a2a2a"/>
<rect x="256.40" y="339.82" width="19.30" height="1.90" fill="#645c8e"/>
<rect x="256.40" y="341.72" width="12.40" height="2.30" fill="#3a2047"/>
<line x1="275.70" y1="341.92" x2="279.20" y2="341.92" stroke="#444" stroke-width="0.5"/>
<line x1="279.20" y1="340.82" x2="279.20" y2="343.02" stroke="#444" stroke-width="0.5"/>
<rect x="256.40" y="346.06" width="1.39" height="2.80" fill="#2a2a2a"/>
<rect x="256.40" y="351.50" width="1.07" height="2.80" fill="#2a2a2a"/>
<rect x="256.40" y="356.94" width="2.04" height="2.80" fill="#2a2a2a"/>
<rect x="256.40" y="362.38" width="1.65" height="2.80" fill="#2a2a2a"/>
<rect x="256.40" y="367.82" width="2.05" height="2.80" fill="#2a2a2a"/>
<rect x="256.40" y="373.26" width="1.33" height="2.80" fill="#2a2a2a"/>
<rect x="256.40" y="377.90" width="5.00" height="1.90" fill="#645c8e"/>
<rect x="256.40" y="379.80" width="3.00" height="2.30" fill="#3a2047"/>
<line x1="261.40" y1="380.00" x2="269.30" y2="380.00" stroke="#444" stroke-width="0.5"/>
<line x1="269.30" y1="378.90" x2="269.30" y2="381.10" stroke="#444" stroke-width="0.5"/>
<rect x="256.40" y="384.14" width="2.10" height="2.80" fill="#2a2a2a"/>
<rect x="256.40" y="388.78" width="5.80" height="1.90" fill="#645c8e"/>
<rect x="256.40" y="390.68" width="4.00" height="2.30" fill="#3a2047"/>
<line x1="262.20" y1="390.88" x2="267.80" y2="390.88" stroke="#444" stroke-width="0.5"/>
<line x1="267.80" y1="389.78" x2="267.80" y2="391.98" stroke="#444" stroke-width="0.5"/>
<rect x="256.40" y="395.02" width="2.16" height="2.80" fill="#2a2a2a"/>
<rect x="256.40" y="400.46" width="2.09" height="2.80" fill="#2a2a2a"/>
<rect x="256.40" y="405.10" width="5.80" height="1.90" fill="#645c8e"/>
<rect x="256.40" y="407.00" width="4.00" height="2.30" fill="#3a2047"/>
<line x1="262.20" y1="407.20" x2="266.90" y2="407.20" stroke="#444" stroke-width="0.5"/>
<line x1="266.90" y1="406.10" x2="266.90" y2="408.30" stroke="#444" stroke-width="0.5"/>
<rect x="256.40" y="410.54" width="39.40" height="1.90" fill="#645c8e"/>
<rect x="256.40" y="412.44" width="39.40" height="2.30" fill="#3a2047"/>
<rect x="256.40" y="416.78" width="1.16" height="2.80" fill="#2a2a2a"/>
<rect x="256.40" y="422.22" width="1.63" height="2.80" fill="#2a2a2a"/>
<rect x="256.40" y="426.86" width="40.20" height="1.90" fill="#645c8e"/>
<rect x="256.40" y="428.76" width="40.20" height="2.30" fill="#3a2047"/>
<line x1="296.60" y1="428.96" x2="302.90" y2="428.96" stroke="#444" stroke-width="0.5"/>
<line x1="302.90" y1="427.86" x2="302.90" y2="430.06" stroke="#444" stroke-width="0.5"/>
<rect x="256.40" y="433.10" width="0.85" height="2.80" fill="#2a2a2a"/>
<rect x="256.40" y="437.74" width="6.30" height="1.90" fill="#645c8e"/>
<rect x="256.40" y="439.64" width="4.00" height="2.30" fill="#3a2047"/>
<line x1="262.70" y1="439.84" x2="271.50" y2="439.84" stroke="#444" stroke-width="0.5"/>
<line x1="271.50" y1="438.74" x2="271.50" y2="440.94" stroke="#444" stroke-width="0.5"/>
<rect x="256.40" y="443.18" width="4.20" height="1.90" fill="#645c8e"/>
<rect x="256.40" y="445.08" width="3.00" height="2.30" fill="#3a2047"/>
<line x1="260.60" y1="445.28" x2="263.70" y2="445.28" stroke="#444" stroke-width="0.5"/>
<line x1="263.70" y1="444.18" x2="263.70" y2="446.38" stroke="#444" stroke-width="0.5"/>
<rect x="256.40" y="448.62" width="19.90" height="1.90" fill="#645c8e"/>
<rect x="256.40" y="450.52" width="15.00" height="2.30" fill="#3a2047"/>
<line x1="276.30" y1="450.72" x2="286.80" y2="450.72" stroke="#444" stroke-width="0.5"/>
<line x1="286.80" y1="449.62" x2="286.80" y2="451.82" stroke="#444" stroke-width="0.5"/>
<rect x="256.40" y="454.86" width="1.91" height="2.80" fill="#2a2a2a"/>
<rect x="256.40" y="459.50" width="18.80" height="1.90" fill="#645c8e"/>
<rect x="256.40" y="461.40" width="15.00" height="2.30" fill="#3a2047"/>
<line x1="275.20" y1="461.60" x2="281.50" y2="461.60" stroke="#444" stroke-width="0.5"/>
<line x1="281.50" y1="460.50" x2="281.50" y2="462.70" stroke="#444" stroke-width="0.5"/>
<rect x="256.40" y="464.94" width="5.20" height="1.90" fill="#645c8e"/>
<rect x="256.40" y="466.84" width="4.00" height="2.30" fill="#3a2047"/>
<line x1="261.60" y1="467.04" x2="266.90" y2="467.04" stroke="#444" stroke-width="0.5"/>
<line x1="266.90" y1="465.94" x2="266.90" y2="468.14" stroke="#444" stroke-width="0.5"/>
<rect x="256.40" y="470.38" width="13.60" height="1.90" fill="#645c8e"/>
<rect x="256.40" y="472.28" width="11.00" height="2.30" fill="#3a2047"/>
<line x1="270.00" y1="472.48" x2="271.00" y2="472.48" stroke="#444" stroke-width="0.5"/>
<line x1="271.00" y1="471.38" x2="271.00" y2="473.58" stroke="#444" stroke-width="0.5"/>
<rect x="256.40" y="475.82" width="13.60" height="1.90" fill="#645c8e"/>
<rect x="256.40" y="477.72" width="11.00" height="2.30" fill="#3a2047"/>
<line x1="270.00" y1="477.92" x2="274.20" y2="477.92" stroke="#444" stroke-width="0.5"/>
<line x1="274.20" y1="476.82" x2="274.20" y2="479.02" stroke="#444" stroke-width="0.5"/>
<rect x="256.40" y="481.26" width="41.90" height="1.90" fill="#645c8e"/>
<rect x="256.40" y="483.16" width="38.00" height="2.30" fill="#3a2047"/>
<line x1="298.30" y1="483.36" x2="300.40" y2="483.36" stroke="#444" stroke-width="0.5"/>
<line x1="300.40" y1="482.26" x2="300.40" y2="484.46" stroke="#444" stroke-width="0.5"/>
<rect x="256.40" y="487.50" width="1.38" height="2.80" fill="#2a2a2a"/>
<rect x="256.40" y="492.94" width="1.15" height="2.80" fill="#2a2a2a"/>
<rect x="256.40" y="497.58" width="42.90" height="1.90" fill="#645c8e"/>
<rect x="256.40" y="499.48" width="42.90" height="2.30" fill="#3a2047"/>
<line x1="256.40" y1="241.00" x2="256.40" y2="502.50" stroke="#333" stroke-width="0.6"/>
<line x1="256.40" y1="502.50" x2="319.60" y2="502.50" stroke="#555" stroke-width="0.7"/>
<text x="325.0" y="363.9" font-size="4.6" font-weight="bold" text-anchor="middle" fill="#000" transform="rotate(90 325.0 363.9)" stroke="#000" stroke-width="0.12">TRAP</text>
<text x="309.7" y="482.8" font-size="3.9" font-weight="bold" text-anchor="start" fill="#000" transform="rotate(90 309.7 482.8)" stroke="#000" stroke-width="0.1">&#9633; - Aspirin</text>
<text x="303.7" y="482.8" font-size="3.9" font-weight="bold" text-anchor="start" fill="#000" transform="rotate(90 303.7 482.8)" stroke="#000" stroke-width="0.1">&#9632; + Aspirin</text>
<text x="342.6" y="8.7" font-size="11.6" font-weight="bold" text-anchor="start" fill="#000">C</text>
<text x="344.6" y="18.6" font-size="9.5" font-weight="bold" text-anchor="start" fill="#000">i</text>
<line x1="364.70" y1="22.40" x2="506.00" y2="22.40" stroke="#a0a0a0" stroke-width="0.7"/>
<line x1="506.00" y1="22.40" x2="506.00" y2="117.70" stroke="#a8a8a8" stroke-width="0.7"/>
<text x="362.0" y="23.35" font-size="2.7" font-weight="bold" text-anchor="end" fill="#000" stroke="#000" stroke-width="0.12" textLength="9.80" lengthAdjust="spacingAndGlyphs">5000</text>
<line x1="363.20" y1="22.40" x2="364.70" y2="22.40" stroke="#333" stroke-width="0.5"/>
<text x="362.0" y="42.41" font-size="2.7" font-weight="bold" text-anchor="end" fill="#000" stroke="#000" stroke-width="0.12" textLength="9.80" lengthAdjust="spacingAndGlyphs">4000</text>
<line x1="363.20" y1="41.46" x2="364.70" y2="41.46" stroke="#333" stroke-width="0.5"/>
<text x="362.0" y="61.47" font-size="2.7" font-weight="bold" text-anchor="end" fill="#000" stroke="#000" stroke-width="0.12" textLength="9.80" lengthAdjust="spacingAndGlyphs">3000</text>
<line x1="363.20" y1="60.52" x2="364.70" y2="60.52" stroke="#333" stroke-width="0.5"/>
<text x="362.0" y="80.53" font-size="2.7" font-weight="bold" text-anchor="end" fill="#000" stroke="#000" stroke-width="0.12" textLength="9.80" lengthAdjust="spacingAndGlyphs">2000</text>
<line x1="363.20" y1="79.58" x2="364.70" y2="79.58" stroke="#333" stroke-width="0.5"/>
<text x="362.0" y="99.59" font-size="2.7" font-weight="bold" text-anchor="end" fill="#000" stroke="#000" stroke-width="0.12" textLength="9.80" lengthAdjust="spacingAndGlyphs">1000</text>
<line x1="363.20" y1="98.64" x2="364.70" y2="98.64" stroke="#333" stroke-width="0.5"/>
<text x="362.0" y="118.65" font-size="2.7" font-weight="bold" text-anchor="end" fill="#000" stroke="#000" stroke-width="0.12" textLength="2.45" lengthAdjust="spacingAndGlyphs">0</text>
<line x1="363.20" y1="117.70" x2="364.70" y2="117.70" stroke="#333" stroke-width="0.5"/>
<line x1="377.20" y1="42.80" x2="377.20" y2="43.70" stroke="#555" stroke-width="0.6"/>
<line x1="375.90" y1="42.80" x2="378.50" y2="42.80" stroke="#555" stroke-width="0.6"/>
<rect x="372.30" y="43.70" width="9.80" height="74.00" fill="#fff" stroke="#222" stroke-width="0.6"/>
<line x1="387.15" y1="32.30" x2="387.15" y2="41.00" stroke="#555" stroke-width="0.6"/>
<line x1="385.85" y1="32.30" x2="388.45" y2="32.30" stroke="#555" stroke-width="0.6"/>
<rect x="382.10" y="41.00" width="10.10" height="76.70" fill="#000" stroke="#000" stroke-width="0.4"/>
<line x1="412.50" y1="34.20" x2="412.50" y2="56.50" stroke="#555" stroke-width="0.6"/>
<line x1="411.20" y1="34.20" x2="413.80" y2="34.20" stroke="#555" stroke-width="0.6"/>
<rect x="407.40" y="56.50" width="10.20" height="61.20" fill="#fff" stroke="#222" stroke-width="0.6"/>
<line x1="422.60" y1="75.40" x2="422.60" y2="92.90" stroke="#555" stroke-width="0.6"/>
<line x1="421.30" y1="75.40" x2="423.90" y2="75.40" stroke="#555" stroke-width="0.6"/>
<rect x="417.60" y="92.90" width="10.00" height="24.80" fill="#000" stroke="#000" stroke-width="0.4"/>
<line x1="447.55" y1="58.30" x2="447.55" y2="78.00" stroke="#555" stroke-width="0.6"/>
<line x1="446.25" y1="58.30" x2="448.85" y2="58.30" stroke="#555" stroke-width="0.6"/>
<rect x="442.50" y="78.00" width="10.10" height="39.70" fill="#fff" stroke="#222" stroke-width="0.6"/>
<line x1="457.70" y1="89.40" x2="457.70" y2="106.70" stroke="#555" stroke-width="0.6"/>
<line x1="456.40" y1="89.40" x2="459.00" y2="89.40" stroke="#555" stroke-width="0.6"/>
<rect x="452.60" y="106.70" width="10.20" height="11.00" fill="#000" stroke="#000" stroke-width="0.4"/>
<line x1="482.70" y1="116.00" x2="482.70" y2="117.00" stroke="#555" stroke-width="0.6"/>
<line x1="481.40" y1="116.00" x2="484.00" y2="116.00" stroke="#555" stroke-width="0.6"/>
<rect x="477.60" y="117.00" width="10.20" height="0.70" fill="#fff" stroke="#222" stroke-width="0.6"/>
<line x1="492.90" y1="115.80" x2="492.90" y2="116.40" stroke="#555" stroke-width="0.6"/>
<line x1="491.60" y1="115.80" x2="494.20" y2="115.80" stroke="#555" stroke-width="0.6"/>
<rect x="487.80" y="116.40" width="10.20" height="1.30" fill="#000" stroke="#000" stroke-width="0.4"/>
<line x1="364.70" y1="22.40" x2="364.70" y2="119.20" stroke="#333" stroke-width="0.7"/>
<line x1="363.20" y1="117.70" x2="506.00" y2="117.70" stroke="#222" stroke-width="0.8"/>
<line x1="400.02" y1="117.70" x2="400.02" y2="119.30" stroke="#444" stroke-width="0.5"/>
<line x1="435.35" y1="117.70" x2="435.35" y2="119.30" stroke="#444" stroke-width="0.5"/>
<line x1="470.68" y1="117.70" x2="470.68" y2="119.30" stroke="#444" stroke-width="0.5"/>
<text x="382.50" y="128.2" font-size="5.2" text-anchor="middle" fill="#000">TRAP</text>
<text x="417.50" y="128.2" font-size="5.2" text-anchor="middle" fill="#000">Collagen</text>
<text x="452.40" y="128.2" font-size="5.2" text-anchor="middle" fill="#000">ADP</text>
<text x="486.00" y="128.2" font-size="5.2" text-anchor="middle" fill="#000">Rest</text>
<text x="455.3" y="38.9" font-size="9.0" text-anchor="start" fill="#000">PDGF</text>
<text x="347.8" y="69.4" font-size="5.7" text-anchor="middle" fill="#000" transform="rotate(-90 347.8 69.4)" stroke="#000" stroke-width="0.1">Signal Intensity</text>
<text x="343.3" y="140.6" font-size="9.5" font-weight="bold" text-anchor="start" fill="#000">ii</text>
<line x1="360.30" y1="144.40" x2="510.80" y2="144.40" stroke="#a0a0a0" stroke-width="0.7"/>
<line x1="510.80" y1="144.40" x2="510.80" y2="241.70" stroke="#a8a8a8" stroke-width="0.7"/>
<text x="357.0" y="145.35" font-size="2.7" font-weight="bold" text-anchor="end" fill="#000" stroke="#000" stroke-width="0.12" textLength="9.70" lengthAdjust="spacingAndGlyphs">20000</text>
<line x1="358.80" y1="144.40" x2="360.30" y2="144.40" stroke="#333" stroke-width="0.5"/>
<text x="357.0" y="169.68" font-size="2.7" font-weight="bold" text-anchor="end" fill="#000" stroke="#000" stroke-width="0.12" textLength="9.70" lengthAdjust="spacingAndGlyphs">15000</text>
<line x1="358.80" y1="168.73" x2="360.30" y2="168.73" stroke="#333" stroke-width="0.5"/>
<text x="357.0" y="194.01" font-size="2.7" font-weight="bold" text-anchor="end" fill="#000" stroke="#000" stroke-width="0.12" textLength="9.70" lengthAdjust="spacingAndGlyphs">10000</text>
<line x1="358.80" y1="193.06" x2="360.30" y2="193.06" stroke="#333" stroke-width="0.5"/>
<text x="357.0" y="218.34" font-size="2.7" font-weight="bold" text-anchor="end" fill="#000" stroke="#000" stroke-width="0.12" textLength="7.76" lengthAdjust="spacingAndGlyphs">5000</text>
<line x1="358.80" y1="217.39" x2="360.30" y2="217.39" stroke="#333" stroke-width="0.5"/>
<text x="357.0" y="242.67" font-size="2.7" font-weight="bold" text-anchor="end" fill="#000" stroke="#000" stroke-width="0.12" textLength="1.94" lengthAdjust="spacingAndGlyphs">0</text>
<line x1="358.80" y1="241.72" x2="360.30" y2="241.72" stroke="#333" stroke-width="0.5"/>
<line x1="372.85" y1="174.30" x2="372.85" y2="207.90" stroke="#555" stroke-width="0.6"/>
<line x1="371.55" y1="174.30" x2="374.15" y2="174.30" stroke="#555" stroke-width="0.6"/>
<rect x="367.70" y="207.90" width="10.30" height="33.80" fill="#fff" stroke="#222" stroke-width="0.6"/>
<line x1="383.75" y1="212.40" x2="383.75" y2="226.20" stroke="#555" stroke-width="0.6"/>
<line x1="382.45" y1="212.40" x2="385.05" y2="212.40" stroke="#555" stroke-width="0.6"/>
<rect x="378.00" y="226.20" width="11.50" height="15.50" fill="#000" stroke="#000" stroke-width="0.4"/>
<line x1="410.60" y1="149.00" x2="410.60" y2="180.20" stroke="#555" stroke-width="0.6"/>
<line x1="409.30" y1="149.00" x2="411.90" y2="149.00" stroke="#555" stroke-width="0.6"/>
<rect x="405.00" y="180.20" width="11.20" height="61.50" fill="#fff" stroke="#222" stroke-width="0.6"/>
<line x1="421.70" y1="226.20" x2="421.70" y2="236.00" stroke="#555" stroke-width="0.6"/>
<line x1="420.40" y1="226.20" x2="423.00" y2="226.20" stroke="#555" stroke-width="0.6"/>
<rect x="416.20" y="236.00" width="11.00" height="5.70" fill="#000" stroke="#000" stroke-width="0.4"/>
<line x1="448.50" y1="238.00" x2="448.50" y2="239.40" stroke="#555" stroke-width="0.6"/>
<line x1="447.20" y1="238.00" x2="449.80" y2="238.00" stroke="#555" stroke-width="0.6"/>
<rect x="443.00" y="239.40" width="11.00" height="2.30" fill="#fff" stroke="#222" stroke-width="0.6"/>
<line x1="459.65" y1="233.00" x2="459.65" y2="237.60" stroke="#555" stroke-width="0.6"/>
<line x1="458.35" y1="233.00" x2="460.95" y2="233.00" stroke="#555" stroke-width="0.6"/>
<rect x="454.00" y="237.60" width="11.30" height="4.10" fill="#000" stroke="#000" stroke-width="0.4"/>
<line x1="486.65" y1="237.80" x2="486.65" y2="239.40" stroke="#555" stroke-width="0.6"/>
<line x1="485.35" y1="237.80" x2="487.95" y2="237.80" stroke="#555" stroke-width="0.6"/>
<rect x="481.00" y="239.40" width="11.30" height="2.30" fill="#fff" stroke="#222" stroke-width="0.6"/>
<rect x="492.30" y="240.50" width="10.40" height="1.20" fill="#000" stroke="#000" stroke-width="0.4"/>
<line x1="360.30" y1="144.40" x2="360.30" y2="243.20" stroke="#333" stroke-width="0.7"/>
<line x1="358.80" y1="241.70" x2="510.80" y2="241.70" stroke="#222" stroke-width="0.8"/>
<line x1="397.93" y1="241.70" x2="397.93" y2="243.30" stroke="#444" stroke-width="0.5"/>
<line x1="435.55" y1="241.70" x2="435.55" y2="243.30" stroke="#444" stroke-width="0.5"/>
<line x1="473.18" y1="241.70" x2="473.18" y2="243.30" stroke="#444" stroke-width="0.5"/>
<text x="379.30" y="252.1" font-size="5.4" text-anchor="middle" fill="#000">TRAP</text>
<text x="416.80" y="252.1" font-size="5.4" text-anchor="middle" fill="#000">Collagen</text>
<text x="454.20" y="252.1" font-size="5.4" text-anchor="middle" fill="#000">ADP</text>
<text x="492.00" y="252.1" font-size="5.4" text-anchor="middle" fill="#000">Rest</text>
<text x="470.8" y="161.8" font-size="9.0" text-anchor="start" fill="#000">GRO</text>
<text x="342.3" y="193.9" font-size="6.1" text-anchor="middle" fill="#000" transform="rotate(-90 342.3 193.9)" stroke="#000" stroke-width="0.1">Signal Intensity</text>
<text x="344.6" y="263.0" font-size="9.5" font-weight="bold" text-anchor="start" fill="#000">iii</text>
<line x1="366.00" y1="267.60" x2="502.80" y2="267.60" stroke="#a0a0a0" stroke-width="0.7"/>
<line x1="502.80" y1="267.60" x2="502.80" y2="367.00" stroke="#a8a8a8" stroke-width="0.7"/>
<text x="364.1" y="268.55" font-size="2.7" font-weight="bold" text-anchor="end" fill="#000" stroke="#000" stroke-width="0.12" textLength="9.68" lengthAdjust="spacingAndGlyphs">3000</text>
<line x1="364.50" y1="267.60" x2="366.00" y2="267.60" stroke="#333" stroke-width="0.5"/>
<text x="364.1" y="285.12" font-size="2.7" font-weight="bold" text-anchor="end" fill="#000" stroke="#000" stroke-width="0.12" textLength="9.68" lengthAdjust="spacingAndGlyphs">2500</text>
<line x1="364.50" y1="284.17" x2="366.00" y2="284.17" stroke="#333" stroke-width="0.5"/>
<text x="364.1" y="301.69" font-size="2.7" font-weight="bold" text-anchor="end" fill="#000" stroke="#000" stroke-width="0.12" textLength="9.68" lengthAdjust="spacingAndGlyphs">2000</text>
<line x1="364.50" y1="300.74" x2="366.00" y2="300.74" stroke="#333" stroke-width="0.5"/>
<text x="364.1" y="318.26" font-size="2.7" font-weight="bold" text-anchor="end" fill="#000" stroke="#000" stroke-width="0.12" textLength="9.68" lengthAdjust="spacingAndGlyphs">1500</text>
<line x1="364.50" y1="317.31" x2="366.00" y2="317.31" stroke="#333" stroke-width="0.5"/>
<text x="364.1" y="334.83" font-size="2.7" font-weight="bold" text-anchor="end" fill="#000" stroke="#000" stroke-width="0.12" textLength="9.68" lengthAdjust="spacingAndGlyphs">1000</text>
<line x1="364.50" y1="333.88" x2="366.00" y2="333.88" stroke="#333" stroke-width="0.5"/>
<text x="364.1" y="351.40" font-size="2.7" font-weight="bold" text-anchor="end" fill="#000" stroke="#000" stroke-width="0.12" textLength="7.26" lengthAdjust="spacingAndGlyphs">500</text>
<line x1="364.50" y1="350.45" x2="366.00" y2="350.45" stroke="#333" stroke-width="0.5"/>
<text x="364.1" y="367.97" font-size="2.7" font-weight="bold" text-anchor="end" fill="#000" stroke="#000" stroke-width="0.12" textLength="2.42" lengthAdjust="spacingAndGlyphs">0</text>
<line x1="364.50" y1="367.02" x2="366.00" y2="367.02" stroke="#333" stroke-width="0.5"/>
<line x1="378.05" y1="299.40" x2="378.05" y2="312.20" stroke="#555" stroke-width="0.6"/>
<line x1="376.75" y1="299.40" x2="379.35" y2="299.40" stroke="#555" stroke-width="0.6"/>
<rect x="372.80" y="312.20" width="10.50" height="54.80" fill="#fff" stroke="#222" stroke-width="0.6"/>
<line x1="388.25" y1="291.90" x2="388.25" y2="321.50" stroke="#555" stroke-width="0.6"/>
<line x1="386.95" y1="291.90" x2="389.55" y2="291.90" stroke="#555" stroke-width="0.6"/>
<rect x="383.30" y="321.50" width="9.90" height="45.50" fill="#000" stroke="#000" stroke-width="0.4"/>
<line x1="412.55" y1="288.30" x2="412.55" y2="317.20" stroke="#555" stroke-width="0.6"/>
<line x1="411.25" y1="288.30" x2="413.85" y2="288.30" stroke="#555" stroke-width="0.6"/>
<rect x="407.40" y="317.20" width="10.30" height="49.80" fill="#fff" stroke="#222" stroke-width="0.6"/>
<line x1="422.65" y1="350.20" x2="422.65" y2="357.50" stroke="#555" stroke-width="0.6"/>
<line x1="421.35" y1="350.20" x2="423.95" y2="350.20" stroke="#555" stroke-width="0.6"/>
<rect x="417.70" y="357.50" width="9.90" height="9.50" fill="#000" stroke="#000" stroke-width="0.4"/>
<line x1="447.00" y1="365.00" x2="447.00" y2="366.00" stroke="#555" stroke-width="0.6"/>
<line x1="445.70" y1="365.00" x2="448.30" y2="365.00" stroke="#555" stroke-width="0.6"/>
<rect x="442.00" y="366.00" width="10.00" height="1.00" fill="#fff" stroke="#222" stroke-width="0.6"/>
<line x1="457.00" y1="364.50" x2="457.00" y2="365.50" stroke="#555" stroke-width="0.6"/>
<line x1="455.70" y1="364.50" x2="458.30" y2="364.50" stroke="#555" stroke-width="0.6"/>
<rect x="452.00" y="365.50" width="10.00" height="1.50" fill="#000" stroke="#000" stroke-width="0.4"/>
<line x1="483.00" y1="361.00" x2="483.00" y2="364.50" stroke="#555" stroke-width="0.6"/>
<line x1="481.70" y1="361.00" x2="484.30" y2="361.00" stroke="#555" stroke-width="0.6"/>
<rect x="478.00" y="364.50" width="10.00" height="2.50" fill="#fff" stroke="#222" stroke-width="0.6"/>
<rect x="488.00" y="365.80" width="10.00" height="1.20" fill="#000" stroke="#000" stroke-width="0.4"/>
<line x1="366.00" y1="267.60" x2="366.00" y2="368.50" stroke="#333" stroke-width="0.7"/>
<line x1="364.50" y1="367.00" x2="502.80" y2="367.00" stroke="#222" stroke-width="0.8"/>
<line x1="400.20" y1="367.00" x2="400.20" y2="368.60" stroke="#444" stroke-width="0.5"/>
<line x1="434.40" y1="367.00" x2="434.40" y2="368.60" stroke="#444" stroke-width="0.5"/>
<line x1="468.60" y1="367.00" x2="468.60" y2="368.60" stroke="#444" stroke-width="0.5"/>
<text x="383.00" y="377.8" font-size="4.6" text-anchor="middle" fill="#000">TRAP</text>
<text x="417.30" y="377.8" font-size="4.6" text-anchor="middle" fill="#000">Collagen</text>
<text x="452.00" y="377.8" font-size="4.6" text-anchor="middle" fill="#000">ADP</text>
<text x="487.00" y="377.8" font-size="4.6" text-anchor="middle" fill="#000">Rest</text>
<text x="453.8" y="282.7" font-size="9.0" text-anchor="start" fill="#000">Angiogenin</text>
<text x="348.5" y="315.4" font-size="5.7" text-anchor="middle" fill="#000" transform="rotate(-90 348.5 315.4)" stroke="#000" stroke-width="0.1">Signal Intensity</text>
<text x="344.6" y="391.4" font-size="9.5" font-weight="bold" text-anchor="start" fill="#000">iv</text>
<line x1="360.20" y1="396.80" x2="517.80" y2="396.80" stroke="#a0a0a0" stroke-width="0.7"/>
<line x1="517.80" y1="396.80" x2="517.80" y2="495.40" stroke="#a8a8a8" stroke-width="0.7"/>
<text x="356.9" y="397.75" font-size="2.7" font-weight="bold" text-anchor="end" fill="#000" stroke="#000" stroke-width="0.12" textLength="9.70" lengthAdjust="spacingAndGlyphs">16000</text>
<line x1="358.70" y1="396.80" x2="360.20" y2="396.80" stroke="#333" stroke-width="0.5"/>
<text x="356.9" y="410.07" font-size="2.7" font-weight="bold" text-anchor="end" fill="#000" stroke="#000" stroke-width="0.12" textLength="9.70" lengthAdjust="spacingAndGlyphs">14000</text>
<line x1="358.70" y1="409.12" x2="360.20" y2="409.12" stroke="#333" stroke-width="0.5"/>
<text x="356.9" y="422.40" font-size="2.7" font-weight="bold" text-anchor="end" fill="#000" stroke="#000" stroke-width="0.12" textLength="9.70" lengthAdjust="spacingAndGlyphs">12000</text>
<line x1="358.70" y1="421.45" x2="360.20" y2="421.45" stroke="#333" stroke-width="0.5"/>
<text x="356.9" y="434.72" font-size="2.7" font-weight="bold" text-anchor="end" fill="#000" stroke="#000" stroke-width="0.12" textLength="9.70" lengthAdjust="spacingAndGlyphs">10000</text>
<line x1="358.70" y1="433.77" x2="360.20" y2="433.77" stroke="#333" stroke-width="0.5"/>
<text x="356.9" y="447.05" font-size="2.7" font-weight="bold" text-anchor="end" fill="#000" stroke="#000" stroke-width="0.12" textLength="7.76" lengthAdjust="spacingAndGlyphs">8000</text>
<line x1="358.70" y1="446.10" x2="360.20" y2="446.10" stroke="#333" stroke-width="0.5"/>
<text x="356.9" y="459.38" font-size="2.7" font-weight="bold" text-anchor="end" fill="#000" stroke="#000" stroke-width="0.12" textLength="7.76" lengthAdjust="spacingAndGlyphs">6000</text>
<line x1="358.70" y1="458.43" x2="360.20" y2="458.43" stroke="#333" stroke-width="0.5"/>
<text x="356.9" y="471.70" font-size="2.7" font-weight="bold" text-anchor="end" fill="#000" stroke="#000" stroke-width="0.12" textLength="7.76" lengthAdjust="spacingAndGlyphs">4000</text>
<line x1="358.70" y1="470.75" x2="360.20" y2="470.75" stroke="#333" stroke-width="0.5"/>
<text x="356.9" y="484.02" font-size="2.7" font-weight="bold" text-anchor="end" fill="#000" stroke="#000" stroke-width="0.12" textLength="7.76" lengthAdjust="spacingAndGlyphs">2000</text>
<line x1="358.70" y1="483.07" x2="360.20" y2="483.07" stroke="#333" stroke-width="0.5"/>
<text x="356.9" y="496.35" font-size="2.7" font-weight="bold" text-anchor="end" fill="#000" stroke="#000" stroke-width="0.12" textLength="1.94" lengthAdjust="spacingAndGlyphs">0</text>
<line x1="358.70" y1="495.40" x2="360.20" y2="495.40" stroke="#333" stroke-width="0.5"/>
<line x1="374.55" y1="437.70" x2="374.55" y2="470.70" stroke="#555" stroke-width="0.6"/>
<line x1="373.25" y1="437.70" x2="375.85" y2="437.70" stroke="#555" stroke-width="0.6"/>
<rect x="368.30" y="470.70" width="12.50" height="24.70" fill="#fff" stroke="#222" stroke-width="0.6"/>
<line x1="386.55" y1="479.00" x2="386.55" y2="485.20" stroke="#555" stroke-width="0.6"/>
<line x1="385.25" y1="479.00" x2="387.85" y2="479.00" stroke="#555" stroke-width="0.6"/>
<rect x="380.80" y="485.20" width="11.50" height="10.20" fill="#000" stroke="#000" stroke-width="0.4"/>
<line x1="414.30" y1="401.00" x2="414.30" y2="432.40" stroke="#555" stroke-width="0.6"/>
<line x1="413.00" y1="401.00" x2="415.60" y2="401.00" stroke="#555" stroke-width="0.6"/>
<rect x="408.30" y="432.40" width="12.00" height="63.00" fill="#fff" stroke="#222" stroke-width="0.6"/>
<line x1="426.00" y1="465.70" x2="426.00" y2="472.10" stroke="#555" stroke-width="0.6"/>
<line x1="424.70" y1="465.70" x2="427.30" y2="465.70" stroke="#555" stroke-width="0.6"/>
<rect x="420.30" y="472.10" width="11.40" height="23.30" fill="#000" stroke="#000" stroke-width="0.4"/>
<line x1="453.85" y1="491.00" x2="453.85" y2="493.40" stroke="#555" stroke-width="0.6"/>
<line x1="452.55" y1="491.00" x2="455.15" y2="491.00" stroke="#555" stroke-width="0.6"/>
<rect x="448.30" y="493.40" width="11.10" height="2.00" fill="#fff" stroke="#222" stroke-width="0.6"/>
<rect x="459.40" y="494.00" width="11.40" height="1.40" fill="#000" stroke="#000" stroke-width="0.4"/>
<line x1="494.20" y1="488.50" x2="494.20" y2="491.60" stroke="#555" stroke-width="0.6"/>
<line x1="492.90" y1="488.50" x2="495.50" y2="488.50" stroke="#555" stroke-width="0.6"/>
<rect x="488.60" y="491.60" width="11.20" height="3.80" fill="#fff" stroke="#222" stroke-width="0.6"/>
<line x1="505.40" y1="492.50" x2="505.40" y2="493.60" stroke="#555" stroke-width="0.6"/>
<line x1="504.10" y1="492.50" x2="506.70" y2="492.50" stroke="#555" stroke-width="0.6"/>
<rect x="499.80" y="493.60" width="11.20" height="1.80" fill="#000" stroke="#000" stroke-width="0.4"/>
<line x1="360.20" y1="396.80" x2="360.20" y2="496.90" stroke="#333" stroke-width="0.7"/>
<line x1="358.70" y1="495.40" x2="517.80" y2="495.40" stroke="#222" stroke-width="0.8"/>
<line x1="399.60" y1="495.40" x2="399.60" y2="497.00" stroke="#444" stroke-width="0.5"/>
<line x1="439.00" y1="495.40" x2="439.00" y2="497.00" stroke="#444" stroke-width="0.5"/>
<line x1="478.40" y1="495.40" x2="478.40" y2="497.00" stroke="#444" stroke-width="0.5"/>
<text x="380.80" y="504.7" font-size="4.8" text-anchor="middle" fill="#000">TRAP</text>
<text x="420.20" y="504.7" font-size="4.8" text-anchor="middle" fill="#000">Collagen</text>
<text x="459.00" y="504.7" font-size="4.8" text-anchor="middle" fill="#000">ADP</text>
<text x="500.00" y="504.7" font-size="4.8" text-anchor="middle" fill="#000">Rest</text>
<text x="479.7" y="409.9" font-size="9.0" text-anchor="start" fill="#000">OSM</text>
<text x="343.0" y="449.7" font-size="5.9" text-anchor="middle" fill="#000" transform="rotate(-90 343.0 449.7)" stroke="#000" stroke-width="0.1">Signal Intensity</text>
</svg>
</body></html>
